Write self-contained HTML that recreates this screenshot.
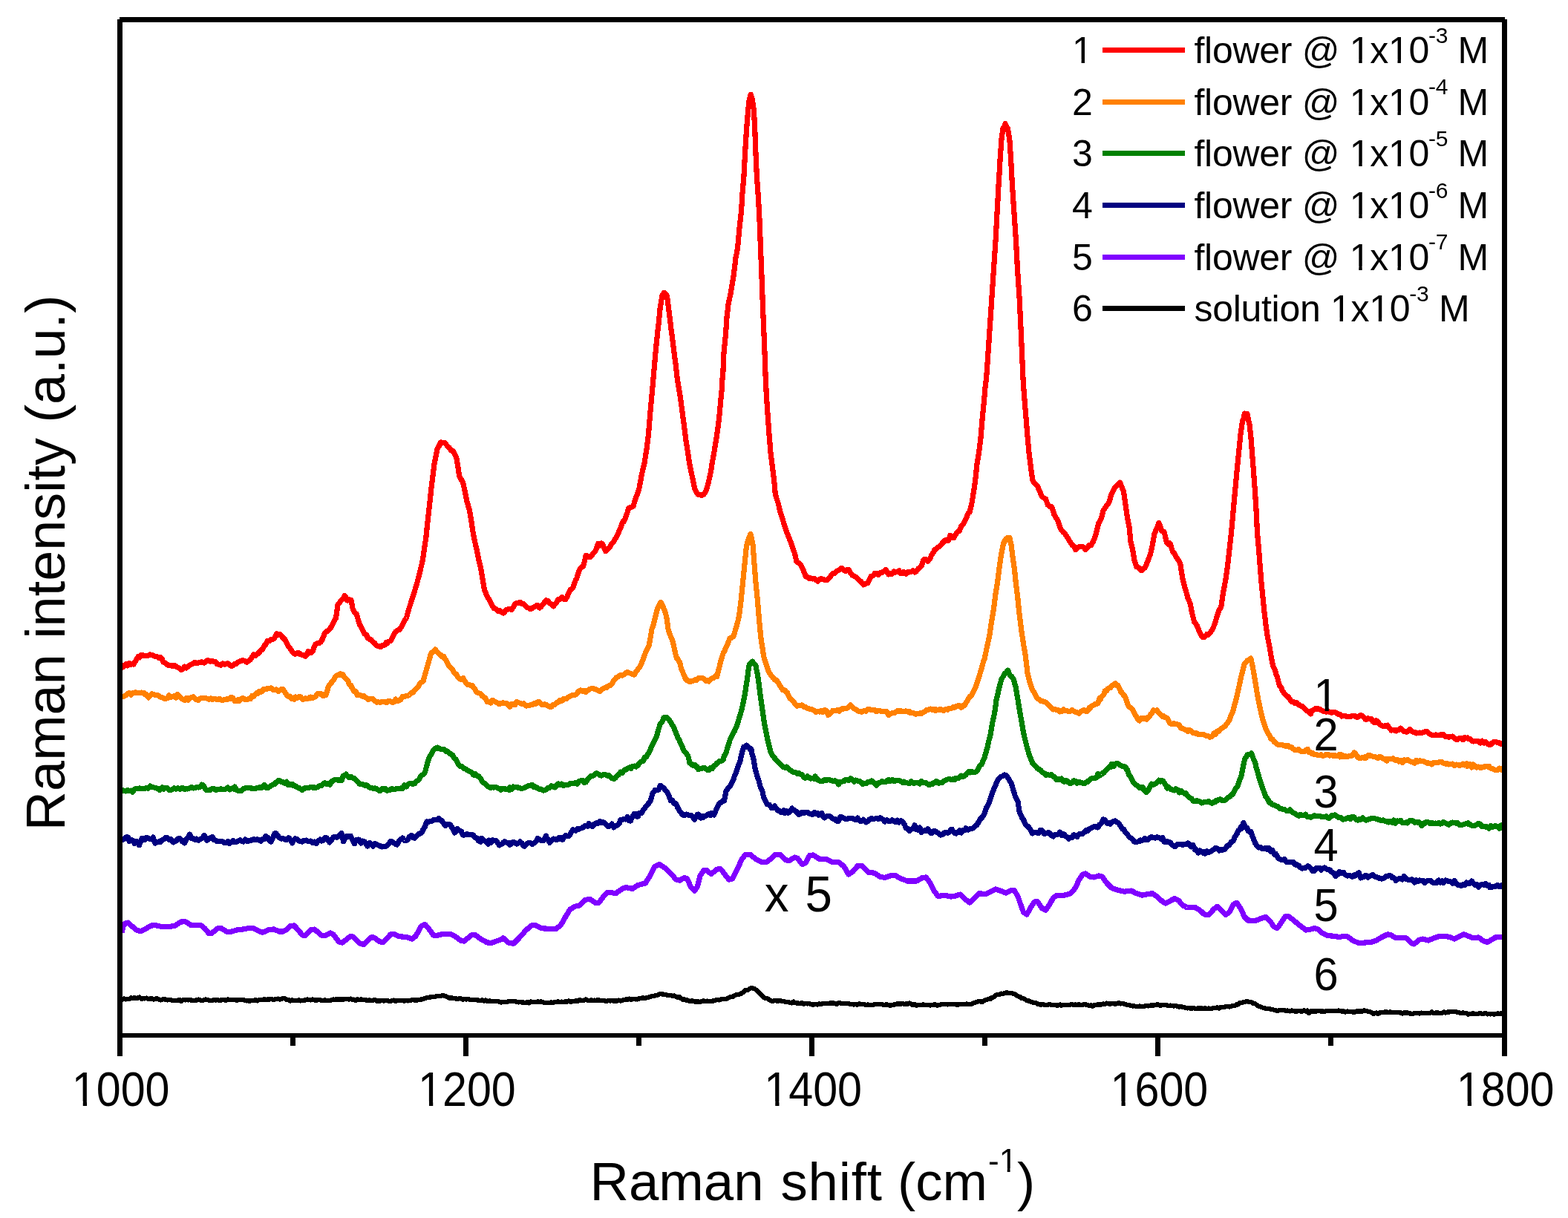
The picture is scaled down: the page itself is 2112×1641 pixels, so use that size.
<!DOCTYPE html>
<html lang="en"><head><meta charset="utf-8"><title>Raman spectra</title>
<style>html,body{margin:0;padding:0;background:#fff}body{width:2112px;height:1641px;overflow:hidden}svg{display:block}text{font-family:"Liberation Sans",sans-serif;fill:#000}</style></head><body>
<svg width="2112" height="1641" viewBox="0 0 2112 1641">
<defs><clipPath id="c0" clipPathUnits="userSpaceOnUse"><path clip-rule="evenodd" d="M-9000-9000H9000V9000H-9000ZM-68.51 -5.80H-55.25V2.00H-68.51ZM-49.58 -5.80H-36.83V2.00H-49.58Z"/></clipPath><clipPath id="c1" clipPathUnits="userSpaceOnUse"><path clip-rule="evenodd" d="M-9000-9000H9000V9000H-9000ZM-68.51 -5.80H-55.25V2.00H-68.51ZM-49.58 -5.80H-36.83V2.00H-49.58Z"/></clipPath><clipPath id="c2" clipPathUnits="userSpaceOnUse"><path clip-rule="evenodd" d="M-9000-9000H9000V9000H-9000ZM-68.51 -5.80H-55.25V2.00H-68.51ZM-49.58 -5.80H-36.83V2.00H-49.58Z"/></clipPath><clipPath id="c3" clipPathUnits="userSpaceOnUse"><path clip-rule="evenodd" d="M-9000-9000H9000V9000H-9000ZM-68.51 -5.80H-55.25V2.00H-68.51ZM-49.58 -5.80H-36.83V2.00H-49.58Z"/></clipPath><clipPath id="c4" clipPathUnits="userSpaceOnUse"><path clip-rule="evenodd" d="M-9000-9000H9000V9000H-9000ZM-68.51 -5.80H-55.25V2.00H-68.51ZM-49.58 -5.80H-36.83V2.00H-49.58Z"/></clipPath><clipPath id="c5" clipPathUnits="userSpaceOnUse"><path clip-rule="evenodd" d="M-9000-9000H9000V9000H-9000ZM1346.99 1574.21H1356.71V1580.50H1346.99ZM1360.59 1574.21H1369.96V1580.50H1360.59Z"/></clipPath><clipPath id="c7" clipPathUnits="userSpaceOnUse"><path clip-rule="evenodd" d="M-9000-9000H9000V9000H-9000ZM1445.81 80.46H1456.58V87.20H1445.81ZM1460.99 80.46H1471.37V87.20H1460.99Z"/></clipPath><clipPath id="c8" clipPathUnits="userSpaceOnUse"><path clip-rule="evenodd" d="M-9000-9000H9000V9000H-9000ZM1819.51 80.46H1830.28V87.20H1819.51ZM1834.69 80.46H1845.07V87.20H1834.69ZM1871.72 80.46H1882.48V87.20H1871.72ZM1886.90 80.46H1897.27V87.20H1886.90Z"/></clipPath><clipPath id="c10" clipPathUnits="userSpaceOnUse"><path clip-rule="evenodd" d="M-9000-9000H9000V9000H-9000ZM1819.51 150.07H1830.28V156.80H1819.51ZM1834.69 150.07H1845.07V156.80H1834.69ZM1871.72 150.07H1882.48V156.80H1871.72ZM1886.90 150.07H1897.27V156.80H1886.90Z"/></clipPath><clipPath id="c12" clipPathUnits="userSpaceOnUse"><path clip-rule="evenodd" d="M-9000-9000H9000V9000H-9000ZM1819.51 219.66H1830.28V226.40H1819.51ZM1834.69 219.66H1845.07V226.40H1834.69ZM1871.72 219.66H1882.48V226.40H1871.72ZM1886.90 219.66H1897.27V226.40H1886.90Z"/></clipPath><clipPath id="c14" clipPathUnits="userSpaceOnUse"><path clip-rule="evenodd" d="M-9000-9000H9000V9000H-9000ZM1819.51 289.26H1830.28V296.00H1819.51ZM1834.69 289.26H1845.07V296.00H1834.69ZM1871.72 289.26H1882.48V296.00H1871.72ZM1886.90 289.26H1897.27V296.00H1886.90Z"/></clipPath><clipPath id="c16" clipPathUnits="userSpaceOnUse"><path clip-rule="evenodd" d="M-9000-9000H9000V9000H-9000ZM1819.51 358.87H1830.28V365.60H1819.51ZM1834.69 358.87H1845.07V365.60H1834.69ZM1871.72 358.87H1882.48V365.60H1871.72ZM1886.90 358.87H1897.27V365.60H1886.90Z"/></clipPath><clipPath id="c18" clipPathUnits="userSpaceOnUse"><path clip-rule="evenodd" d="M-9000-9000H9000V9000H-9000ZM1793.83 428.47H1804.59V435.20H1793.83ZM1809.01 428.47H1819.38V435.20H1809.01ZM1846.04 428.47H1856.81V435.20H1846.04ZM1861.22 428.47H1871.60V435.20H1861.22Z"/></clipPath><clipPath id="c19" clipPathUnits="userSpaceOnUse"><path clip-rule="evenodd" d="M-9000-9000H9000V9000H-9000ZM2.80 -5.71H15.84V2.00H2.80ZM21.41 -5.71H33.96V2.00H21.41Z"/></clipPath></defs>
<rect x="0" y="0" width="2112" height="1641" fill="#fff"/>
<g id="curves" shape-rendering="crispEdges">
<polyline fill="none" stroke="#000000" stroke-width="6.3" stroke-linejoin="round" stroke-linecap="butt" points="164.8,1346.1 165.0,1346.4 167.1,1345.6 169.4,1346.5 171.7,1345.8 174.1,1345.9 176.4,1344.5 178.7,1344.8 180.0,1344.4 181.1,1344.4 183.4,1344.7 185.7,1344.5 188.1,1343.6 190.4,1345.7 192.7,1345.3 195.0,1345.4 197.4,1344.6 200.0,1345.8 202.0,1345.6 204.4,1345.2 206.7,1346.6 209.0,1345.8 211.4,1345.1 213.7,1346.2 216.0,1347.4 218.3,1347.1 220.0,1346.0 223.0,1346.6 225.3,1347.4 227.7,1346.9 230.0,1347.1 232.3,1348.2 234.7,1347.7 236.2,1348.2 239.3,1347.7 241.6,1346.8 244.0,1348.8 246.3,1347.4 248.6,1346.7 250.0,1347.4 251.0,1346.7 253.3,1347.4 255.6,1347.2 258.0,1347.6 260.3,1347.9 262.6,1347.7 264.9,1347.6 267.3,1346.6 270.0,1347.7 271.9,1348.3 274.3,1347.5 276.6,1346.5 278.9,1347.0 281.3,1347.6 283.6,1347.9 285.9,1348.0 288.2,1347.0 290.0,1347.5 292.9,1347.3 295.2,1347.9 297.6,1347.5 299.9,1347.1 302.2,1347.3 304.6,1347.6 306.9,1346.5 310.0,1346.9 311.5,1347.0 313.9,1347.1 316.2,1347.2 318.5,1347.6 320.9,1347.3 323.2,1347.3 325.0,1347.1 327.9,1347.2 330.2,1347.9 332.5,1348.4 334.8,1347.9 336.2,1349.0 337.2,1348.6 339.5,1347.9 341.8,1348.2 344.2,1347.1 346.5,1348.4 348.8,1347.3 350.0,1346.9 351.2,1346.7 353.5,1346.9 355.8,1346.1 358.1,1347.1 360.5,1346.5 362.8,1346.8 365.0,1345.7 367.5,1346.9 369.8,1346.5 372.1,1346.2 374.5,1345.6 376.8,1346.6 380.0,1345.6 381.4,1345.1 383.8,1345.5 386.1,1346.8 388.4,1346.8 390.8,1348.5 393.1,1347.5 395.4,1347.7 397.5,1347.9 400.1,1347.9 402.4,1347.3 404.7,1348.4 407.1,1347.8 409.4,1347.7 411.7,1347.4 414.1,1346.6 415.0,1347.0 416.4,1347.1 418.7,1347.4 421.1,1346.6 423.4,1346.8 425.7,1348.2 428.0,1346.9 430.4,1347.0 432.5,1347.8 435.0,1347.9 437.4,1347.5 439.7,1347.8 442.0,1347.8 444.4,1347.9 446.7,1347.3 449.0,1346.4 450.0,1346.8 451.3,1346.7 453.7,1346.4 456.0,1346.6 458.3,1346.4 460.7,1346.6 463.0,1346.4 465.3,1346.2 467.7,1346.2 470.0,1346.5 472.3,1345.6 474.6,1346.8 477.0,1346.6 479.3,1348.0 481.6,1346.2 484.0,1347.1 485.0,1347.0 486.3,1346.4 488.6,1347.0 491.0,1346.9 493.3,1347.5 495.6,1347.7 497.9,1347.5 500.0,1348.2 502.6,1347.8 504.9,1347.0 507.3,1348.5 509.6,1348.5 511.9,1348.5 514.3,1348.0 516.6,1348.4 518.9,1348.3 521.2,1348.0 523.6,1348.8 525.0,1348.9 525.9,1348.8 528.2,1348.1 530.6,1347.6 532.9,1348.8 535.0,1347.7 537.6,1348.2 539.9,1347.8 542.2,1348.3 544.5,1348.5 547.5,1348.2 549.2,1348.4 551.5,1348.1 553.9,1347.5 556.2,1347.2 558.5,1347.7 560.9,1347.5 563.2,1347.3 565.5,1347.0 567.8,1346.4 570.0,1346.3 572.5,1344.8 574.8,1344.2 577.5,1343.7 579.5,1343.6 581.8,1342.7 584.2,1343.3 586.5,1342.5 588.8,1342.2 590.0,1342.2 591.1,1342.2 593.5,1342.2 595.8,1341.0 598.8,1341.6 600.5,1342.0 602.8,1343.6 605.1,1344.5 607.5,1344.4 609.8,1344.7 612.1,1345.3 614.4,1345.4 616.8,1346.0 619.1,1345.1 621.4,1345.7 623.8,1346.8 625.0,1345.8 626.1,1345.8 628.4,1346.5 630.8,1346.1 633.1,1347.1 635.4,1346.8 637.7,1347.0 640.1,1346.9 642.4,1347.3 645.0,1347.8 647.1,1348.3 649.4,1347.4 651.7,1348.6 654.1,1347.4 656.4,1349.1 658.7,1348.5 661.0,1348.7 663.4,1348.9 665.0,1348.9 668.0,1349.3 670.4,1349.0 672.7,1349.6 675.0,1350.5 677.5,1350.2 678.0,1349.7 679.7,1349.7 682.0,1350.1 684.3,1349.4 686.7,1348.7 689.0,1348.9 691.3,1349.1 693.0,1348.8 696.0,1349.9 698.3,1350.4 700.7,1350.2 703.0,1350.5 705.3,1350.6 708.0,1351.4 710.0,1349.7 712.3,1351.4 714.6,1349.5 717.0,1350.3 719.3,1349.7 721.6,1349.8 723.0,1349.7 724.0,1349.4 726.3,1349.9 728.6,1349.3 730.9,1350.1 733.3,1350.8 735.6,1351.0 738.0,1350.7 740.3,1350.8 742.6,1350.3 744.9,1351.0 747.3,1350.2 749.6,1349.8 751.9,1349.4 753.0,1349.8 754.2,1349.8 756.6,1349.6 758.9,1349.8 761.2,1349.6 763.6,1349.7 765.9,1348.5 768.2,1349.7 770.6,1349.3 773.0,1349.1 775.2,1348.3 777.5,1349.3 779.9,1347.6 782.2,1347.6 784.5,1348.3 786.9,1347.6 789.2,1346.4 790.5,1347.2 791.5,1347.8 793.9,1348.1 796.2,1347.3 798.5,1347.8 800.8,1347.6 803.2,1348.3 805.5,1347.0 808.0,1347.9 810.2,1348.3 812.5,1348.3 814.8,1348.3 817.2,1349.1 819.5,1348.0 821.8,1348.5 824.1,1347.9 826.5,1348.8 828.0,1348.5 831.1,1348.6 833.5,1347.6 835.8,1348.5 838.1,1348.0 840.5,1347.0 843.0,1346.4 845.1,1346.7 847.4,1345.6 849.8,1347.1 852.1,1346.0 854.4,1346.1 856.8,1346.4 858.0,1346.3 859.1,1346.4 861.4,1344.9 863.8,1344.8 866.1,1344.1 868.4,1344.8 870.7,1344.4 873.0,1343.8 875.4,1343.1 877.7,1342.4 880.1,1341.8 883.0,1341.4 884.7,1341.0 887.1,1340.1 889.4,1339.0 890.5,1339.3 891.7,1339.5 894.0,1339.7 896.4,1339.7 898.7,1340.6 900.5,1340.9 903.4,1340.8 905.7,1341.7 908.0,1341.6 910.5,1342.5 912.7,1343.8 915.0,1343.2 918.0,1345.7 919.7,1346.7 922.0,1346.4 924.3,1347.5 926.7,1347.6 928.0,1348.3 929.0,1348.9 931.3,1348.4 933.7,1348.7 936.0,1349.7 938.0,1349.5 940.6,1349.3 943.0,1350.0 945.3,1349.2 947.6,1348.4 950.5,1349.0 952.3,1348.6 954.6,1348.8 957.0,1349.0 959.3,1349.2 961.6,1347.9 963.0,1348.0 963.9,1347.7 966.3,1346.8 968.6,1347.5 970.9,1346.4 973.3,1345.9 975.5,1346.2 977.9,1346.1 980.3,1344.7 982.6,1343.7 984.9,1342.9 988.0,1342.4 989.6,1341.3 991.9,1340.0 994.2,1340.1 996.6,1339.4 998.0,1338.9 1001.2,1336.8 1003.6,1334.4 1005.5,1334.2 1008.2,1333.3 1010.5,1331.5 1011.8,1331.2 1012.9,1331.3 1015.2,1331.8 1016.8,1332.5 1019.9,1334.9 1023.0,1337.8 1024.5,1339.2 1026.9,1341.9 1029.2,1344.1 1030.5,1344.8 1031.5,1344.9 1033.8,1345.4 1036.2,1347.1 1038.0,1348.2 1040.8,1348.8 1043.2,1348.2 1045.5,1348.4 1048.0,1348.7 1050.2,1348.0 1052.5,1348.7 1054.8,1349.1 1058.0,1349.8 1059.5,1350.3 1061.8,1349.8 1064.1,1351.1 1066.5,1351.4 1068.8,1349.4 1071.1,1351.2 1073.0,1351.4 1075.8,1351.6 1078.1,1351.9 1080.4,1351.1 1082.8,1352.7 1085.1,1351.8 1087.4,1352.4 1089.8,1352.0 1092.1,1353.0 1093.0,1353.1 1094.4,1353.7 1096.8,1353.3 1099.1,1352.8 1101.4,1353.5 1103.7,1352.4 1106.1,1352.9 1108.4,1352.2 1110.7,1352.1 1113.0,1352.3 1115.4,1352.2 1117.7,1351.6 1120.1,1351.6 1122.4,1351.3 1124.7,1352.0 1127.0,1353.0 1129.4,1351.3 1131.7,1351.4 1134.0,1352.1 1135.5,1351.7 1138.7,1352.2 1141.0,1352.1 1143.4,1352.1 1145.5,1353.2 1148.0,1353.3 1150.3,1353.4 1152.7,1353.0 1155.0,1353.7 1157.3,1352.5 1159.7,1352.8 1162.0,1352.8 1164.3,1352.9 1165.5,1353.6 1166.7,1354.3 1169.0,1353.6 1171.3,1354.2 1173.6,1354.0 1176.0,1353.8 1178.3,1353.0 1180.6,1353.0 1183.0,1353.1 1185.3,1353.1 1188.0,1353.2 1190.0,1354.0 1192.3,1353.6 1194.6,1353.2 1196.9,1354.2 1199.2,1354.8 1201.6,1353.9 1203.9,1353.8 1206.0,1352.7 1208.6,1352.6 1210.9,1352.6 1213.3,1352.6 1215.6,1352.0 1217.9,1353.1 1221.0,1352.1 1222.6,1352.7 1224.9,1351.6 1227.2,1352.7 1229.6,1354.1 1231.9,1353.2 1234.2,1354.7 1236.0,1353.8 1238.9,1354.3 1241.2,1354.1 1243.5,1353.3 1245.9,1354.0 1248.2,1354.2 1250.5,1354.0 1252.9,1354.6 1256.0,1353.9 1257.5,1353.5 1259.9,1353.5 1262.2,1354.8 1264.5,1353.9 1266.8,1353.8 1269.2,1352.7 1271.0,1353.1 1273.8,1353.0 1276.2,1353.4 1278.5,1353.1 1280.8,1353.0 1283.2,1352.7 1285.5,1353.0 1288.5,1353.5 1290.1,1353.7 1292.5,1352.9 1294.8,1353.3 1297.1,1352.8 1299.5,1353.3 1301.8,1352.4 1304.1,1353.1 1306.0,1353.3 1308.8,1352.7 1311.1,1351.5 1313.4,1350.7 1316.0,1349.7 1318.1,1349.0 1320.4,1349.2 1322.8,1350.0 1325.1,1348.2 1326.0,1348.4 1327.4,1347.0 1329.8,1346.7 1332.1,1345.6 1334.4,1345.6 1336.0,1344.1 1339.1,1343.0 1341.4,1340.9 1343.5,1339.8 1346.1,1340.1 1348.4,1338.6 1350.7,1339.2 1353.1,1338.0 1356.0,1337.1 1357.7,1337.7 1360.0,1337.8 1362.4,1337.7 1364.7,1339.0 1366.0,1338.7 1367.0,1339.3 1369.4,1341.0 1371.7,1342.6 1374.0,1343.2 1376.0,1344.8 1378.7,1345.2 1381.0,1346.7 1383.3,1348.1 1386.0,1348.6 1388.0,1349.3 1390.3,1350.4 1392.7,1350.9 1395.0,1351.1 1397.3,1352.0 1398.5,1353.1 1399.7,1353.3 1402.0,1353.6 1404.3,1353.2 1406.6,1353.7 1409.0,1354.2 1411.3,1353.7 1413.6,1353.0 1416.0,1354.0 1418.3,1353.9 1420.6,1353.7 1423.0,1354.5 1425.3,1354.5 1427.6,1353.5 1429.9,1354.8 1431.0,1354.0 1432.3,1353.9 1434.6,1354.0 1436.9,1353.8 1439.3,1354.0 1441.6,1353.5 1443.9,1352.9 1446.3,1354.2 1448.6,1353.4 1451.0,1353.8 1453.2,1353.3 1455.6,1353.8 1457.9,1353.9 1460.2,1353.2 1462.6,1353.5 1464.9,1353.9 1467.2,1354.8 1468.5,1354.9 1469.6,1354.4 1471.9,1355.8 1474.2,1353.9 1476.5,1353.7 1478.9,1353.4 1481.0,1353.5 1483.5,1353.4 1485.9,1352.5 1488.2,1352.9 1490.5,1351.5 1493.5,1352.3 1495.2,1352.7 1497.5,1352.0 1499.8,1352.3 1502.2,1352.8 1504.5,1352.2 1506.8,1351.1 1509.2,1352.4 1511.5,1351.9 1513.5,1352.3 1516.2,1353.1 1518.5,1353.9 1520.8,1354.1 1523.1,1354.8 1526.0,1355.5 1527.8,1355.3 1530.1,1356.0 1532.5,1355.9 1534.8,1355.5 1537.1,1356.1 1539.5,1356.1 1541.0,1355.9 1544.1,1355.0 1546.4,1355.4 1548.8,1354.7 1551.1,1354.4 1553.4,1354.8 1556.0,1353.9 1558.1,1353.5 1560.4,1353.5 1562.8,1355.1 1565.1,1353.8 1567.4,1353.9 1569.7,1354.1 1571.0,1354.1 1572.1,1354.5 1574.4,1355.2 1576.7,1354.6 1579.1,1355.3 1581.4,1355.5 1583.7,1355.1 1586.1,1355.9 1588.5,1356.8 1590.7,1356.1 1593.0,1357.2 1595.4,1357.2 1597.7,1358.0 1600.0,1358.4 1602.4,1357.8 1604.7,1359.3 1606.0,1358.3 1607.0,1357.9 1609.4,1358.6 1611.7,1359.2 1614.0,1358.3 1616.3,1358.6 1618.7,1358.4 1621.0,1359.3 1623.3,1358.0 1626.0,1359.2 1628.0,1358.5 1630.3,1359.1 1632.7,1358.6 1635.0,1357.7 1637.3,1358.2 1639.6,1357.4 1642.0,1358.5 1644.3,1356.7 1646.0,1357.2 1649.0,1356.8 1651.3,1355.9 1653.6,1355.7 1656.0,1356.4 1658.3,1355.6 1660.6,1355.2 1663.5,1354.9 1665.3,1353.3 1667.6,1353.5 1669.9,1351.3 1671.0,1351.0 1672.3,1350.9 1674.6,1350.4 1676.9,1349.8 1678.5,1349.2 1681.6,1349.6 1683.9,1349.8 1686.0,1350.5 1688.6,1352.3 1690.9,1352.4 1693.5,1354.8 1695.6,1356.0 1697.9,1356.5 1700.2,1357.4 1702.6,1358.3 1703.5,1358.4 1704.9,1358.9 1707.2,1359.0 1709.5,1358.7 1711.9,1359.7 1714.2,1360.0 1716.5,1360.9 1718.5,1361.3 1721.2,1361.9 1723.5,1360.7 1725.9,1360.8 1728.2,1360.8 1730.5,1361.3 1732.8,1361.8 1734.0,1361.4 1735.2,1361.8 1737.5,1362.4 1739.8,1361.5 1742.2,1361.8 1744.5,1362.6 1746.8,1362.5 1749.2,1361.8 1751.5,1362.5 1753.8,1362.7 1756.1,1361.3 1759.0,1362.5 1760.8,1361.4 1763.1,1364.9 1765.5,1362.3 1767.8,1362.6 1770.1,1362.3 1772.5,1362.7 1774.8,1361.9 1777.1,1361.7 1779.4,1362.6 1781.8,1362.6 1784.1,1362.7 1786.4,1362.3 1788.8,1362.0 1791.5,1361.9 1793.4,1362.2 1795.8,1362.1 1798.1,1362.2 1800.4,1362.2 1802.7,1361.5 1805.1,1361.8 1807.4,1362.8 1809.7,1362.3 1812.1,1363.5 1814.4,1362.6 1816.7,1362.7 1819.0,1363.0 1821.4,1363.1 1823.7,1364.0 1826.0,1362.7 1828.4,1362.4 1830.7,1362.5 1833.0,1362.4 1835.4,1362.5 1837.7,1361.4 1840.0,1362.0 1841.5,1362.3 1844.7,1363.2 1847.0,1363.8 1849.3,1365.5 1851.5,1365.5 1854.0,1364.6 1856.3,1366.2 1858.7,1364.1 1861.0,1363.9 1863.3,1364.0 1865.7,1363.4 1868.0,1363.6 1870.3,1363.9 1871.5,1363.6 1872.6,1363.3 1875.0,1363.9 1877.3,1364.1 1879.6,1363.9 1882.0,1364.3 1884.3,1364.1 1886.6,1364.5 1889.0,1365.6 1891.3,1364.3 1893.6,1364.6 1895.9,1364.5 1899.0,1365.4 1900.6,1365.7 1902.9,1366.2 1905.3,1364.7 1907.6,1365.1 1909.9,1365.1 1912.3,1365.6 1914.6,1364.6 1916.9,1364.8 1919.2,1364.9 1921.6,1364.8 1923.9,1364.8 1926.2,1365.2 1928.6,1363.4 1930.9,1365.2 1934.0,1364.6 1935.6,1364.5 1937.9,1364.7 1940.2,1364.8 1942.5,1364.6 1944.9,1363.5 1947.2,1364.6 1949.5,1363.5 1951.9,1363.5 1954.2,1362.9 1956.5,1363.3 1959.0,1363.3 1961.2,1363.2 1963.5,1364.3 1965.8,1364.3 1968.2,1365.2 1970.5,1364.4 1972.8,1364.9 1975.2,1365.1 1977.5,1366.7 1979.0,1365.7 1982.2,1365.7 1984.5,1365.2 1986.8,1366.0 1989.1,1365.9 1991.5,1365.8 1993.8,1365.1 1996.1,1365.7 1998.5,1365.9 2000.8,1364.8 2003.1,1366.4 2005.5,1366.0 2007.8,1366.4 2010.1,1366.0 2012.4,1366.5 2014.8,1366.2 2017.1,1365.5 2019.4,1365.7 2021.8,1365.4 2023.2,1366.0 2023.5,1365.6"/>
<polyline fill="none" stroke="#8000ff" stroke-width="7.2" stroke-linejoin="round" stroke-linecap="butt" points="164.8,1257.0 165.0,1250.0 167.1,1246.5 168.8,1243.8 172.5,1243.0 174.1,1244.4 176.4,1246.6 178.8,1248.8 181.1,1250.6 183.4,1252.5 185.0,1253.8 188.1,1254.2 190.0,1254.5 192.7,1253.1 195.0,1251.9 196.2,1251.2 197.4,1250.6 199.7,1249.3 202.0,1248.0 203.8,1247.0 206.7,1246.9 209.0,1246.8 210.0,1246.8 211.4,1247.1 213.7,1247.6 216.0,1248.1 218.8,1248.8 220.7,1248.8 223.0,1248.8 225.0,1248.8 227.7,1248.4 230.0,1248.1 232.3,1247.8 235.0,1247.5 237.0,1246.3 239.3,1244.8 241.6,1243.3 243.8,1242.0 246.3,1241.9 248.6,1241.8 250.0,1241.8 251.0,1242.4 253.3,1243.9 255.6,1245.5 257.5,1246.8 260.3,1246.8 262.6,1246.8 263.8,1246.8 264.9,1246.7 267.3,1246.5 270.0,1246.2 271.9,1247.8 274.3,1249.7 276.2,1251.2 278.9,1254.6 281.2,1257.5 283.6,1257.5 285.0,1257.5 285.9,1256.8 288.2,1254.9 290.6,1253.0 293.8,1250.5 295.2,1250.5 297.5,1250.5 299.9,1251.9 302.2,1253.3 305.0,1255.0 306.9,1255.3 310.0,1255.8 311.5,1255.3 313.9,1254.5 316.2,1253.8 318.8,1253.0 320.9,1252.8 323.2,1252.5 325.5,1252.2 327.5,1252.0 330.2,1251.5 332.5,1251.0 335.0,1250.5 337.2,1250.5 339.5,1250.5 341.2,1250.5 344.2,1252.0 346.5,1253.2 348.8,1254.4 350.0,1255.0 351.2,1255.4 353.8,1256.2 355.8,1255.4 358.1,1254.4 360.5,1253.4 362.5,1252.5 365.1,1252.3 367.5,1252.1 368.8,1252.0 369.8,1252.4 372.1,1253.3 374.5,1254.3 376.2,1255.0 379.1,1255.0 381.2,1255.0 383.8,1253.7 386.2,1252.5 388.4,1250.3 391.2,1247.5 393.1,1247.3 396.2,1247.0 397.8,1248.7 400.1,1251.2 401.2,1252.5 402.4,1253.9 404.7,1256.7 407.5,1260.0 409.4,1260.3 411.2,1260.5 414.1,1257.5 416.4,1255.0 418.8,1252.5 421.1,1252.3 423.8,1252.0 425.7,1253.8 428.0,1255.9 430.4,1258.1 432.5,1260.0 435.0,1260.4 437.5,1260.8 439.7,1259.7 442.0,1258.5 445.0,1257.0 446.7,1257.8 448.8,1258.8 451.3,1262.2 453.7,1265.3 456.2,1268.8 458.3,1269.3 461.2,1270.0 463.0,1268.6 465.3,1266.7 467.7,1264.9 470.0,1263.0 471.2,1262.0 472.3,1261.9 475.0,1261.8 477.0,1263.6 479.3,1265.8 481.6,1268.0 484.0,1270.3 485.0,1271.2 486.3,1271.6 488.6,1272.2 490.0,1272.5 491.0,1271.6 493.3,1269.4 495.6,1267.2 497.9,1265.0 500.0,1263.0 502.6,1263.0 503.8,1263.0 504.9,1263.9 507.3,1265.7 509.6,1267.5 511.2,1268.8 514.3,1269.2 516.2,1269.5 518.9,1266.6 521.2,1264.1 523.6,1261.6 526.2,1258.8 528.2,1258.5 530.0,1258.2 532.9,1259.6 535.2,1260.7 537.5,1261.8 539.9,1261.9 542.2,1262.1 544.5,1262.3 547.5,1262.5 549.2,1263.1 551.5,1263.8 553.9,1264.6 555.0,1265.0 556.2,1264.1 558.5,1262.4 560.0,1261.2 563.2,1255.4 565.5,1251.1 567.5,1247.5 570.2,1246.4 572.5,1245.5 574.8,1248.2 577.5,1251.2 579.5,1254.0 581.8,1257.3 583.8,1260.0 586.5,1260.4 587.5,1260.5 588.8,1260.2 591.1,1259.7 593.5,1259.1 595.0,1258.8 598.1,1258.8 600.5,1258.8 602.8,1258.8 605.1,1258.8 607.5,1258.8 609.8,1259.9 612.5,1261.2 614.4,1262.6 616.8,1264.3 619.1,1266.0 621.2,1267.5 623.8,1267.8 625.0,1268.0 626.1,1267.1 628.4,1265.3 630.8,1263.4 633.1,1261.5 635.0,1260.0 637.7,1259.7 640.0,1259.5 642.4,1261.3 644.7,1263.0 647.5,1265.0 649.4,1266.1 651.7,1267.4 654.1,1268.7 656.2,1270.0 658.7,1270.1 661.0,1270.2 662.5,1270.2 665.7,1269.1 668.0,1268.2 670.0,1267.5 672.7,1266.6 675.0,1265.8 677.5,1265.0 678.0,1263.8 679.7,1265.3 682.0,1267.4 684.3,1269.5 685.5,1270.5 686.7,1270.6 689.0,1270.9 691.8,1271.2 693.7,1269.3 696.0,1267.0 698.3,1264.7 699.2,1263.8 700.7,1262.1 703.0,1259.5 705.3,1256.8 708.0,1253.8 710.0,1252.0 712.3,1249.9 715.5,1247.0 717.0,1246.8 719.3,1246.4 720.5,1246.2 721.6,1246.8 724.0,1248.0 726.3,1249.2 729.2,1250.8 730.9,1250.8 733.3,1251.0 735.6,1251.1 738.0,1251.2 740.3,1251.2 742.6,1251.2 744.9,1251.2 747.3,1251.2 749.2,1251.2 751.9,1249.1 754.2,1247.3 755.5,1246.2 756.6,1244.3 758.9,1240.1 761.8,1235.0 763.6,1232.1 765.9,1228.4 768.0,1225.0 770.6,1223.5 772.9,1222.1 774.2,1221.2 775.2,1221.1 777.5,1220.6 780.5,1220.0 782.2,1218.3 784.5,1216.0 786.9,1213.6 788.0,1212.5 789.2,1212.3 791.5,1211.8 794.2,1211.2 796.2,1212.5 798.5,1214.1 800.8,1215.6 801.8,1216.2 803.2,1216.2 805.5,1216.2 806.8,1216.2 807.8,1214.7 810.2,1211.5 813.0,1207.5 814.8,1205.7 818.0,1202.5 819.5,1202.5 821.8,1202.5 823.0,1202.5 824.1,1202.7 826.5,1203.2 829.2,1203.8 831.1,1202.4 833.5,1200.7 835.8,1199.1 838.0,1197.5 840.5,1196.5 843.0,1195.5 845.1,1196.0 847.4,1196.5 849.8,1197.0 851.8,1197.5 854.4,1195.7 856.8,1194.2 859.2,1192.5 861.4,1192.0 863.8,1191.4 866.1,1190.8 869.2,1190.0 870.7,1187.6 873.1,1183.9 875.5,1180.0 877.7,1175.5 880.1,1170.9 881.8,1167.5 884.7,1166.1 887.1,1165.0 888.0,1164.5 889.4,1165.4 891.7,1166.8 894.0,1168.3 896.8,1170.0 898.7,1172.0 901.0,1174.3 904.2,1177.5 905.7,1179.2 908.0,1182.0 910.5,1185.0 912.7,1185.5 915.5,1186.2 917.3,1185.1 919.7,1183.7 921.8,1182.5 924.3,1183.4 925.5,1183.8 926.7,1186.4 929.0,1191.6 930.5,1195.0 933.7,1198.2 935.5,1200.0 938.3,1196.3 939.2,1195.0 940.6,1189.4 943.0,1180.0 945.3,1176.5 948.0,1172.5 950.0,1172.5 951.8,1172.5 954.6,1174.8 957.0,1176.7 958.0,1177.5 959.3,1176.4 961.6,1174.5 963.9,1172.5 965.5,1171.2 968.6,1170.8 970.5,1170.5 973.3,1174.1 975.6,1177.2 976.8,1178.8 977.9,1180.2 980.3,1183.1 981.8,1185.0 984.9,1184.2 986.8,1183.8 989.6,1178.1 991.9,1173.4 993.0,1171.2 994.2,1168.5 996.6,1163.4 999.2,1157.5 1001.2,1155.0 1004.2,1151.2 1005.9,1151.2 1008.2,1151.2 1010.5,1151.2 1012.9,1153.2 1015.2,1155.2 1018.0,1157.5 1019.9,1158.4 1022.2,1159.6 1024.5,1160.8 1025.5,1161.2 1026.9,1161.2 1029.2,1161.2 1031.5,1161.2 1033.0,1161.2 1036.2,1158.7 1039.2,1156.2 1040.8,1154.7 1043.2,1152.3 1044.2,1151.2 1045.5,1151.2 1047.8,1151.2 1050.5,1151.2 1052.5,1153.2 1054.8,1155.6 1058.0,1158.8 1059.5,1159.0 1061.8,1159.3 1063.0,1159.5 1064.1,1158.8 1066.5,1157.4 1068.8,1156.0 1070.5,1155.0 1074.2,1156.2 1075.8,1158.3 1078.1,1161.3 1080.5,1164.5 1082.8,1163.6 1085.5,1162.5 1087.4,1158.6 1090.5,1152.5 1092.1,1152.3 1094.4,1152.1 1095.5,1152.0 1096.8,1152.8 1099.1,1154.4 1101.4,1155.9 1103.0,1157.0 1106.1,1157.2 1108.4,1157.3 1110.7,1157.4 1113.0,1157.5 1115.4,1158.7 1117.7,1159.9 1120.5,1161.2 1122.4,1161.4 1124.7,1161.6 1127.0,1161.7 1129.4,1161.9 1130.5,1162.0 1131.7,1163.1 1134.0,1165.1 1136.8,1167.5 1138.7,1170.8 1141.0,1174.7 1143.0,1178.0 1145.7,1176.2 1148.0,1174.6 1149.2,1173.8 1150.3,1172.4 1152.7,1169.6 1155.5,1166.2 1157.3,1166.2 1160.5,1166.2 1162.0,1167.7 1164.3,1170.1 1166.7,1172.4 1169.2,1175.0 1171.3,1175.3 1173.6,1175.6 1176.0,1176.0 1178.0,1176.2 1180.6,1178.0 1183.0,1179.6 1185.5,1181.2 1187.6,1181.7 1190.0,1182.1 1191.8,1182.5 1194.6,1181.5 1196.9,1180.8 1199.2,1180.0 1201.6,1179.8 1203.9,1179.7 1206.0,1179.5 1208.6,1181.0 1210.9,1182.3 1213.5,1183.8 1215.6,1184.5 1217.9,1185.4 1220.2,1186.3 1222.2,1187.0 1224.9,1187.0 1227.2,1187.0 1229.6,1187.0 1231.9,1187.0 1234.8,1187.0 1236.6,1185.9 1238.9,1184.5 1241.2,1183.1 1242.2,1182.5 1243.5,1182.4 1245.9,1182.1 1247.2,1182.0 1248.2,1183.3 1250.5,1186.4 1252.2,1188.8 1255.2,1194.6 1257.2,1198.8 1259.9,1202.4 1262.2,1205.7 1263.5,1207.5 1264.5,1207.4 1266.8,1207.0 1269.2,1206.7 1272.2,1206.2 1273.8,1206.6 1276.2,1207.0 1278.5,1207.5 1281.0,1208.0 1283.2,1207.7 1285.5,1207.3 1287.2,1207.0 1290.1,1206.1 1292.5,1205.3 1293.5,1205.0 1294.8,1206.3 1297.1,1208.6 1299.8,1211.2 1301.8,1212.9 1304.1,1214.7 1306.0,1216.2 1308.8,1213.5 1311.1,1211.1 1312.2,1210.0 1313.4,1208.8 1315.8,1206.5 1318.5,1203.8 1320.4,1203.9 1322.8,1204.1 1325.1,1204.2 1327.4,1204.4 1328.5,1204.5 1329.8,1203.8 1332.1,1202.6 1334.8,1201.2 1336.7,1200.2 1339.1,1199.0 1341.0,1198.0 1343.7,1198.9 1346.1,1199.6 1347.2,1200.0 1348.4,1200.5 1350.7,1201.4 1353.1,1202.3 1354.8,1203.0 1357.7,1201.6 1360.0,1200.5 1361.0,1200.0 1362.4,1199.9 1364.7,1199.6 1366.0,1199.5 1367.0,1201.1 1369.4,1204.9 1371.0,1207.5 1374.8,1218.8 1376.4,1223.0 1378.5,1228.8 1381.0,1230.6 1383.0,1232.0 1385.7,1227.4 1388.5,1222.5 1390.3,1219.8 1393.5,1215.0 1395.0,1214.8 1397.2,1214.5 1399.7,1218.1 1402.0,1221.5 1403.5,1223.8 1406.6,1225.3 1408.5,1226.2 1411.3,1222.0 1413.5,1218.8 1416.0,1214.4 1418.5,1210.0 1420.6,1208.4 1423.5,1206.2 1425.3,1206.2 1427.6,1206.2 1429.9,1206.2 1432.3,1206.2 1433.5,1206.2 1434.6,1205.9 1436.9,1205.3 1439.3,1204.6 1442.2,1203.8 1443.9,1201.7 1446.3,1198.9 1448.5,1196.2 1450.9,1190.8 1453.5,1185.0 1455.6,1182.1 1458.5,1178.0 1460.2,1177.5 1462.2,1177.0 1464.9,1178.8 1467.2,1180.4 1468.5,1181.2 1469.6,1181.4 1471.9,1181.8 1473.5,1182.0 1476.5,1181.0 1479.8,1180.0 1481.2,1180.4 1483.5,1180.9 1484.8,1181.2 1485.9,1182.8 1488.2,1186.1 1491.0,1190.0 1492.9,1191.9 1495.2,1194.2 1497.2,1196.2 1499.8,1197.2 1502.2,1198.1 1504.5,1198.9 1506.0,1199.5 1509.2,1200.1 1511.5,1200.6 1513.8,1201.1 1514.8,1201.2 1516.2,1201.0 1518.5,1200.7 1520.8,1200.4 1523.5,1200.0 1525.5,1201.0 1527.8,1202.2 1531.0,1203.8 1532.5,1204.2 1534.8,1205.0 1537.1,1205.8 1538.5,1206.2 1539.5,1206.0 1541.8,1205.5 1544.1,1204.9 1546.0,1204.5 1548.8,1204.2 1551.1,1203.9 1552.2,1203.8 1553.4,1204.6 1555.8,1206.1 1558.5,1208.0 1560.4,1209.8 1562.8,1211.9 1564.8,1213.8 1567.4,1215.5 1569.8,1217.0 1572.1,1215.8 1574.4,1214.6 1576.0,1213.8 1579.1,1212.2 1582.2,1210.5 1583.7,1211.2 1586.1,1212.4 1587.2,1213.0 1588.4,1214.3 1590.7,1216.9 1593.5,1220.0 1595.4,1220.9 1598.5,1222.5 1600.0,1222.5 1602.4,1222.5 1604.7,1222.5 1607.0,1222.5 1609.8,1222.5 1611.7,1223.7 1614.0,1225.1 1616.0,1226.2 1618.7,1228.7 1621.0,1230.9 1622.2,1232.0 1623.3,1232.1 1625.7,1232.3 1628.5,1232.5 1630.3,1230.3 1632.7,1227.5 1634.8,1225.0 1637.3,1223.1 1639.8,1221.2 1642.0,1223.5 1644.8,1226.2 1646.6,1228.1 1649.0,1230.5 1651.0,1232.5 1653.6,1230.5 1656.0,1228.8 1658.3,1224.2 1661.0,1218.8 1662.9,1217.8 1666.0,1216.2 1667.6,1218.7 1669.9,1222.1 1671.0,1223.8 1672.3,1226.6 1674.6,1231.8 1676.0,1235.0 1676.9,1235.9 1679.3,1238.3 1681.0,1240.0 1683.9,1240.1 1686.2,1240.3 1688.6,1240.4 1691.0,1240.5 1693.2,1239.6 1695.6,1238.7 1698.5,1237.5 1700.2,1236.9 1702.6,1236.2 1704.8,1235.5 1707.2,1237.8 1709.5,1239.9 1711.0,1241.2 1714.2,1246.1 1716.0,1248.8 1718.9,1249.9 1720.5,1250.5 1723.5,1246.1 1726.0,1242.5 1728.2,1239.2 1731.0,1235.0 1732.8,1234.7 1734.0,1234.5 1735.2,1234.7 1736.5,1235.0 1737.5,1235.8 1739.8,1237.8 1742.2,1239.7 1744.0,1241.2 1746.8,1243.6 1749.2,1245.5 1751.5,1247.5 1753.8,1249.2 1756.1,1250.9 1759.0,1253.0 1760.8,1252.8 1764.0,1252.5 1765.5,1252.0 1767.8,1251.3 1770.2,1250.5 1772.5,1251.2 1775.2,1252.0 1777.1,1253.6 1779.4,1255.7 1781.5,1257.5 1784.1,1258.7 1786.4,1259.9 1787.8,1260.5 1788.8,1260.6 1791.1,1260.8 1793.4,1261.0 1796.5,1261.2 1798.1,1261.5 1800.4,1261.9 1802.7,1262.3 1804.0,1262.5 1805.1,1262.3 1807.4,1261.8 1810.2,1261.2 1812.1,1261.5 1815.2,1262.0 1816.7,1263.1 1819.1,1264.8 1821.4,1266.5 1822.8,1267.5 1823.7,1267.9 1826.0,1268.8 1828.4,1269.7 1830.2,1270.5 1833.0,1270.3 1835.4,1270.2 1837.7,1270.1 1839.0,1270.0 1840.0,1269.9 1842.4,1269.8 1844.7,1269.6 1846.5,1269.5 1849.3,1268.6 1851.7,1267.8 1854.0,1267.0 1856.3,1265.6 1858.7,1264.2 1861.5,1262.5 1863.3,1261.6 1865.7,1260.4 1868.0,1259.3 1869.0,1258.8 1870.3,1259.1 1872.6,1259.7 1874.0,1260.0 1875.0,1260.6 1877.3,1262.0 1880.2,1263.8 1882.0,1263.8 1884.3,1263.8 1886.6,1263.8 1887.8,1263.8 1889.0,1263.8 1891.3,1263.8 1894.0,1263.8 1895.9,1265.7 1898.3,1268.0 1900.2,1270.0 1902.9,1271.3 1904.5,1272.0 1907.6,1269.5 1909.9,1267.5 1911.5,1266.2 1914.6,1265.5 1916.5,1265.0 1919.2,1265.7 1921.6,1266.4 1924.0,1267.0 1926.2,1266.0 1928.6,1265.0 1931.5,1263.8 1933.2,1263.2 1935.6,1262.4 1937.9,1261.6 1939.0,1261.2 1940.2,1261.2 1942.5,1261.2 1944.9,1261.2 1946.5,1261.2 1949.5,1261.9 1952.8,1262.5 1954.2,1263.1 1956.5,1264.0 1959.0,1265.0 1961.2,1264.0 1963.5,1262.8 1965.2,1262.0 1968.2,1260.5 1970.5,1259.3 1971.5,1258.8 1972.8,1259.3 1975.2,1260.2 1977.8,1261.2 1979.8,1262.1 1982.2,1263.0 1984.0,1263.8 1986.8,1263.5 1989.1,1263.2 1991.5,1263.0 1993.8,1264.7 1996.1,1266.3 1997.8,1267.5 2000.8,1268.7 2002.8,1269.5 2005.5,1268.1 2007.8,1266.9 2009.0,1266.2 2010.1,1265.5 2012.4,1264.0 2014.0,1263.0 2017.1,1262.8 2019.4,1262.7 2021.8,1262.6 2023.2,1262.5 2023.5,1262.5"/>
<polyline fill="none" stroke="#000080" stroke-width="7.2" stroke-linejoin="round" stroke-linecap="butt" points="164.8,1130.2 165.0,1131.4 167.1,1130.8 169.4,1128.0 172.5,1128.1 174.1,1133.3 176.4,1131.7 177.5,1131.8 178.7,1132.0 181.1,1136.6 183.4,1133.8 185.0,1133.9 187.5,1138.8 191.2,1129.3 192.7,1129.8 195.0,1131.6 197.4,1128.3 200.0,1129.7 202.0,1130.7 204.4,1130.7 206.2,1128.1 208.8,1136.1 211.4,1134.4 213.7,1134.0 216.2,1134.4 218.3,1131.7 220.7,1130.7 223.0,1128.3 225.0,1128.6 227.7,1131.5 230.0,1130.6 232.3,1133.6 233.8,1134.8 234.7,1133.1 237.0,1133.1 240.0,1129.8 241.6,1129.3 244.0,1131.5 245.0,1133.4 246.3,1132.9 248.6,1135.8 250.0,1132.2 251.0,1131.2 253.3,1127.9 254.5,1126.2 255.6,1124.1 258.0,1129.8 260.0,1129.4 262.6,1131.5 264.9,1130.1 267.3,1132.3 268.8,1130.9 271.9,1129.7 275.0,1125.5 276.6,1128.2 278.8,1132.3 281.3,1130.1 283.8,1128.9 285.9,1127.4 288.2,1131.6 290.0,1132.1 292.9,1133.8 295.2,1133.1 297.6,1133.5 300.0,1133.8 302.2,1135.5 304.6,1135.4 306.9,1133.8 308.8,1136.6 311.5,1134.6 313.8,1132.6 316.2,1134.4 318.5,1134.2 320.9,1133.2 323.2,1131.8 325.0,1133.0 327.9,1134.0 330.2,1131.1 332.5,1133.2 335.0,1133.2 337.2,1132.1 339.5,1131.9 341.8,1130.4 345.0,1131.9 346.5,1130.9 348.8,1131.4 351.2,1133.2 353.8,1130.7 355.8,1130.5 358.0,1126.3 360.5,1128.4 362.8,1132.3 363.8,1133.4 365.1,1134.0 367.5,1129.3 370.0,1122.9 372.1,1123.0 375.0,1127.2 376.8,1129.1 379.1,1130.0 381.4,1129.6 383.8,1131.1 386.1,1131.4 388.8,1128.7 390.8,1131.0 393.8,1135.8 395.4,1132.6 397.5,1129.7 400.1,1130.5 402.4,1132.7 405.0,1133.6 407.1,1134.1 409.4,1132.5 412.5,1132.0 414.1,1133.2 416.4,1133.6 418.7,1133.0 421.2,1135.8 423.4,1134.1 426.2,1136.7 428.0,1133.3 431.2,1131.1 432.7,1133.0 435.0,1132.8 437.4,1129.6 438.8,1128.2 439.7,1128.6 442.0,1131.9 443.8,1134.9 446.7,1131.9 448.8,1128.1 451.3,1127.8 453.7,1128.2 456.2,1126.7 458.3,1124.7 460.0,1122.5 462.5,1133.7 465.3,1128.2 466.2,1126.9 467.7,1126.6 470.0,1127.2 472.3,1126.4 473.8,1129.6 477.5,1136.8 479.3,1131.6 482.5,1131.1 484.0,1131.3 486.2,1136.1 488.6,1133.0 491.2,1134.1 493.3,1137.5 495.0,1140.1 497.9,1135.7 500.0,1137.8 502.6,1140.2 504.9,1136.6 507.3,1137.6 510.0,1138.8 511.9,1139.7 514.3,1141.0 516.6,1140.2 518.8,1140.5 521.2,1139.5 523.6,1137.1 525.9,1133.6 527.5,1133.5 530.6,1135.7 532.9,1137.6 535.0,1138.0 537.6,1132.7 540.0,1130.8 542.2,1129.0 544.5,1132.5 547.5,1132.5 549.2,1131.0 551.5,1127.5 553.9,1125.5 555.0,1128.1 556.2,1126.8 558.5,1129.4 560.0,1127.7 563.2,1124.6 566.2,1122.1 567.8,1122.2 570.2,1117.0 572.5,1113.8 573.8,1109.7 574.8,1107.0 577.2,1107.3 580.0,1106.2 581.8,1106.1 584.2,1104.3 586.2,1104.8 588.8,1104.0 591.2,1102.5 593.5,1105.5 595.0,1105.6 598.1,1110.3 600.0,1112.4 602.8,1110.2 605.0,1110.1 607.5,1112.5 609.8,1117.0 612.5,1122.0 614.4,1120.4 616.2,1116.6 619.1,1119.3 621.4,1120.1 622.5,1123.0 623.8,1125.2 626.1,1124.9 628.8,1123.5 630.8,1124.9 633.1,1124.5 636.2,1124.5 637.7,1125.5 640.1,1128.8 642.4,1128.9 643.8,1131.9 644.7,1132.8 647.1,1134.2 648.8,1129.4 651.7,1131.9 654.1,1133.8 656.4,1136.0 657.5,1137.3 658.7,1132.1 661.0,1135.3 663.8,1131.9 665.7,1132.9 668.0,1132.4 671.2,1136.8 672.7,1138.8 675.0,1137.3 677.5,1136.2 678.0,1135.0 679.7,1133.8 682.0,1135.1 684.3,1135.5 685.5,1135.5 686.7,1138.2 689.0,1136.9 691.3,1134.2 693.0,1134.9 696.0,1137.2 698.3,1136.0 700.5,1133.8 703.0,1136.0 705.3,1139.8 706.8,1140.1 710.0,1136.4 713.0,1135.5 714.6,1135.9 717.0,1137.4 719.2,1135.8 721.6,1134.3 724.2,1129.5 726.3,1130.6 728.6,1132.4 731.8,1132.5 733.3,1130.7 735.6,1126.1 736.8,1130.6 737.9,1130.4 740.5,1135.4 742.6,1132.8 745.5,1130.0 747.3,1130.9 749.6,1131.5 751.9,1129.9 753.0,1128.5 754.2,1130.5 756.6,1128.6 758.0,1131.2 758.9,1128.7 761.8,1125.4 763.6,1126.3 766.8,1126.1 768.2,1123.3 770.6,1119.9 771.8,1117.9 772.9,1118.4 775.2,1119.3 778.0,1116.4 779.9,1117.1 782.2,1116.1 784.5,1115.5 785.5,1114.4 786.9,1113.3 789.2,1112.1 791.5,1113.1 793.0,1109.7 796.2,1112.2 798.0,1113.8 800.8,1110.1 803.2,1108.9 805.5,1109.5 808.0,1106.6 810.2,1108.3 812.5,1107.7 814.2,1109.0 817.2,1111.9 819.2,1113.8 821.8,1112.2 824.2,1110.1 826.8,1114.8 828.8,1112.7 831.1,1112.1 834.2,1109.2 835.8,1104.6 838.1,1104.7 840.5,1103.3 841.8,1103.4 842.8,1103.9 845.1,1100.7 847.4,1105.8 849.2,1106.1 852.1,1099.8 854.4,1096.3 855.5,1096.4 856.8,1099.9 859.2,1100.1 861.4,1095.5 864.2,1095.4 866.1,1091.9 868.4,1088.7 870.5,1086.1 873.1,1083.0 875.4,1080.4 876.8,1077.0 877.7,1073.4 879.2,1068.8 882.4,1064.4 884.2,1064.4 887.1,1064.3 889.2,1058.2 891.7,1060.2 894.0,1061.6 895.5,1064.2 898.7,1067.1 900.5,1070.7 903.4,1078.6 905.5,1078.2 908.0,1082.7 910.4,1082.7 911.8,1085.1 912.7,1087.9 915.5,1092.6 917.3,1095.2 919.7,1097.8 921.8,1098.9 924.3,1097.1 926.7,1097.9 928.0,1098.5 929.0,1098.1 931.3,1098.8 933.7,1101.3 935.5,1104.1 938.3,1099.1 939.2,1097.4 940.6,1097.1 943.0,1101.3 944.2,1102.0 945.3,1099.3 947.6,1101.0 950.5,1099.3 952.3,1098.0 954.6,1096.6 957.0,1098.4 958.0,1095.5 959.3,1096.8 961.8,1098.0 963.9,1092.8 965.5,1089.1 969.2,1081.8 970.9,1081.3 973.3,1079.4 975.5,1078.8 978.0,1066.2 980.3,1062.5 983.0,1059.5 984.9,1056.5 988.0,1049.8 989.6,1044.5 991.8,1040.0 994.2,1032.1 995.5,1029.0 996.6,1026.5 999.2,1015.1 1001.8,1006.3 1003.6,1006.7 1005.5,1004.1 1008.2,1006.3 1010.5,1010.0 1011.8,1009.1 1012.9,1015.8 1014.2,1019.7 1015.2,1023.5 1016.8,1034.6 1020.5,1047.8 1022.2,1052.0 1024.2,1060.3 1026.9,1066.0 1028.0,1071.5 1029.2,1075.6 1031.5,1079.7 1033.0,1083.4 1036.2,1084.2 1039.2,1088.5 1040.8,1088.4 1043.2,1085.9 1044.2,1087.7 1045.5,1089.1 1048.0,1092.1 1050.2,1092.6 1052.5,1094.6 1055.5,1091.8 1057.1,1095.3 1059.5,1092.7 1061.8,1095.3 1063.0,1094.8 1064.1,1093.5 1066.8,1089.1 1068.8,1090.8 1071.1,1093.0 1073.0,1093.3 1075.8,1097.6 1078.0,1096.2 1080.4,1094.2 1082.8,1095.4 1085.1,1094.3 1088.0,1094.4 1089.8,1095.9 1092.1,1096.9 1094.4,1097.6 1096.8,1094.5 1099.1,1096.4 1101.4,1095.7 1103.0,1098.2 1106.8,1095.6 1108.4,1099.6 1110.5,1101.8 1113.1,1099.9 1115.4,1099.8 1118.0,1100.0 1120.1,1101.5 1122.4,1103.5 1124.7,1103.5 1126.8,1106.1 1129.4,1106.2 1131.7,1100.8 1133.0,1101.6 1134.0,1101.0 1136.4,1102.4 1138.7,1103.3 1141.0,1103.2 1143.0,1102.6 1145.7,1102.7 1148.0,1102.3 1150.3,1103.8 1153.0,1104.4 1155.0,1102.1 1157.3,1104.6 1159.7,1106.8 1162.0,1105.6 1163.0,1104.2 1164.3,1105.5 1166.7,1107.9 1168.0,1106.9 1169.0,1106.6 1171.3,1103.6 1173.6,1102.6 1175.5,1103.2 1178.3,1103.1 1180.6,1102.5 1183.0,1103.3 1185.5,1101.5 1187.6,1102.9 1190.0,1104.7 1191.8,1107.0 1194.6,1104.7 1196.9,1106.5 1199.2,1106.3 1201.6,1104.9 1203.9,1106.1 1206.0,1107.8 1208.6,1105.1 1210.9,1108.0 1213.5,1105.7 1215.6,1106.8 1218.5,1111.1 1220.2,1116.0 1222.6,1116.3 1224.8,1119.7 1227.2,1117.5 1229.8,1116.1 1231.9,1111.9 1234.2,1117.5 1237.2,1118.3 1238.9,1115.1 1241.2,1121.3 1243.5,1119.3 1245.9,1118.9 1248.2,1119.5 1249.8,1116.8 1253.5,1122.2 1255.2,1122.6 1257.5,1119.7 1259.8,1119.7 1262.2,1121.5 1264.5,1122.6 1266.8,1125.0 1269.8,1124.2 1271.5,1122.4 1273.8,1121.1 1276.2,1122.3 1278.5,1121.4 1280.8,1117.4 1282.2,1117.2 1283.2,1119.7 1286.0,1122.6 1287.8,1123.1 1290.1,1120.9 1292.5,1118.9 1293.5,1119.9 1294.8,1121.9 1297.1,1118.3 1299.5,1118.8 1301.0,1115.9 1304.1,1118.2 1306.5,1116.6 1308.5,1116.7 1311.1,1115.7 1313.5,1113.1 1315.8,1111.7 1318.1,1107.4 1319.8,1104.2 1322.8,1101.3 1324.8,1098.7 1327.4,1092.3 1328.5,1088.4 1329.8,1086.2 1332.2,1082.0 1334.4,1074.8 1336.0,1069.9 1339.8,1060.4 1341.4,1056.8 1343.5,1051.7 1346.1,1048.1 1348.5,1046.3 1350.7,1045.6 1353.0,1044.0 1355.4,1044.6 1358.5,1049.4 1360.0,1051.7 1362.4,1055.6 1363.5,1059.9 1364.7,1063.6 1367.2,1072.0 1369.4,1076.6 1371.0,1079.8 1373.0,1092.9 1374.0,1095.6 1377.2,1103.1 1378.7,1104.7 1381.0,1110.1 1383.3,1113.0 1385.7,1114.1 1387.2,1116.8 1390.3,1122.9 1392.2,1122.1 1395.0,1121.3 1397.3,1122.2 1399.7,1122.2 1401.0,1118.6 1402.0,1118.1 1404.3,1119.8 1406.0,1123.1 1409.0,1122.9 1411.3,1122.0 1413.5,1121.9 1416.0,1125.3 1418.5,1127.0 1420.6,1124.4 1423.0,1124.4 1426.0,1123.7 1427.6,1121.2 1429.9,1125.7 1432.3,1123.5 1433.5,1124.3 1434.6,1126.3 1436.9,1127.5 1439.8,1130.1 1441.6,1128.4 1443.9,1128.9 1446.0,1124.8 1448.6,1125.4 1450.9,1127.3 1453.5,1123.8 1455.6,1123.5 1457.9,1123.8 1461.0,1121.0 1462.6,1118.9 1464.9,1119.7 1467.2,1116.8 1469.6,1115.5 1471.9,1114.6 1474.8,1113.2 1476.5,1114.1 1478.9,1114.9 1481.0,1111.0 1483.5,1108.9 1486.0,1103.9 1488.2,1104.4 1491.0,1109.1 1492.9,1108.5 1495.2,1110.1 1497.2,1108.0 1499.8,1106.8 1502.2,1106.0 1504.5,1107.6 1506.8,1109.0 1508.5,1111.7 1512.2,1117.3 1513.8,1117.4 1516.2,1122.0 1518.5,1124.2 1520.8,1127.2 1523.5,1129.5 1525.5,1130.7 1527.8,1134.0 1529.8,1134.5 1532.5,1134.0 1534.8,1133.7 1536.0,1132.0 1537.1,1132.6 1539.5,1131.7 1541.8,1129.7 1543.5,1131.7 1546.4,1131.3 1548.8,1128.6 1551.0,1127.6 1553.4,1128.5 1555.8,1129.0 1558.5,1127.8 1560.4,1128.3 1562.8,1129.3 1565.1,1131.1 1566.0,1128.6 1567.4,1133.2 1568.5,1134.5 1569.7,1134.7 1572.1,1133.6 1574.4,1134.9 1576.0,1135.0 1579.1,1138.3 1582.2,1140.4 1583.7,1140.2 1586.0,1137.4 1588.4,1137.7 1590.7,1137.8 1593.5,1138.2 1595.4,1137.4 1597.7,1137.2 1600.0,1136.0 1601.0,1138.0 1602.4,1137.6 1604.7,1140.9 1607.0,1138.7 1609.8,1145.1 1611.7,1144.8 1614.0,1149.1 1616.0,1146.0 1618.7,1147.6 1621.0,1149.8 1622.2,1147.8 1623.3,1150.0 1625.7,1147.0 1628.0,1148.7 1631.0,1147.1 1632.7,1145.6 1635.0,1144.4 1637.2,1142.6 1639.6,1143.0 1642.2,1146.0 1644.3,1145.0 1646.6,1145.2 1649.8,1144.3 1651.3,1141.8 1653.6,1139.3 1656.0,1138.3 1658.3,1134.6 1661.0,1133.2 1662.9,1128.3 1666.0,1123.7 1667.6,1119.4 1669.9,1117.6 1671.0,1114.5 1672.3,1116.2 1674.8,1108.6 1676.9,1113.4 1679.8,1115.6 1681.6,1120.1 1684.8,1120.2 1686.2,1124.4 1688.5,1130.7 1690.9,1136.5 1693.5,1139.9 1695.6,1141.9 1697.9,1141.3 1699.8,1143.8 1702.6,1143.2 1704.9,1142.3 1706.0,1142.3 1707.2,1144.5 1709.5,1142.9 1711.9,1147.2 1713.5,1145.4 1716.5,1151.2 1718.5,1150.5 1721.2,1155.4 1723.5,1157.5 1724.8,1157.9 1725.9,1158.1 1728.2,1158.2 1729.8,1157.6 1732.8,1161.2 1734.0,1161.7 1735.2,1161.5 1737.5,1161.2 1739.0,1161.1 1742.2,1161.8 1744.5,1165.1 1746.5,1164.9 1749.2,1166.0 1751.5,1168.7 1754.0,1170.1 1756.1,1169.1 1758.5,1169.2 1761.5,1166.9 1763.1,1167.7 1765.5,1170.1 1767.8,1173.3 1770.1,1173.5 1772.5,1170.5 1774.0,1169.1 1777.1,1169.1 1779.4,1172.2 1781.5,1170.2 1784.1,1169.0 1786.4,1171.0 1789.0,1171.8 1791.1,1172.0 1793.4,1174.7 1796.5,1176.1 1798.1,1178.6 1799.0,1180.8 1800.4,1177.7 1802.7,1177.7 1804.0,1174.4 1805.1,1175.1 1807.4,1176.8 1809.7,1175.6 1811.5,1178.0 1814.4,1180.0 1816.7,1179.8 1819.0,1179.8 1821.4,1181.2 1823.7,1179.0 1825.2,1180.0 1828.4,1177.4 1830.2,1175.7 1833.0,1182.9 1834.0,1182.2 1835.4,1181.3 1837.7,1181.1 1839.0,1179.3 1840.0,1179.2 1842.4,1182.2 1844.7,1180.3 1846.5,1179.9 1849.3,1178.6 1851.7,1180.7 1854.0,1181.8 1856.3,1182.3 1859.0,1183.8 1861.0,1184.0 1863.3,1183.6 1866.5,1180.9 1868.0,1180.6 1870.3,1180.0 1872.6,1179.7 1874.0,1180.5 1875.0,1182.4 1877.3,1182.3 1880.2,1186.4 1882.0,1184.4 1884.3,1184.0 1886.5,1183.8 1889.0,1184.9 1891.3,1180.4 1894.0,1184.6 1895.9,1184.9 1898.3,1185.6 1901.5,1184.9 1902.9,1185.6 1905.3,1189.1 1906.5,1188.5 1907.6,1185.7 1909.9,1187.5 1912.3,1185.9 1914.0,1186.7 1916.9,1186.6 1919.2,1189.6 1921.5,1187.3 1923.9,1186.5 1926.2,1186.1 1929.0,1188.9 1930.9,1189.4 1933.2,1189.6 1935.6,1189.2 1936.5,1186.9 1937.9,1186.0 1940.2,1188.9 1942.5,1187.0 1944.0,1189.4 1947.2,1185.9 1949.5,1187.0 1951.5,1187.7 1954.2,1188.0 1956.5,1190.1 1959.0,1186.3 1961.2,1190.3 1963.5,1192.3 1966.5,1192.2 1968.2,1193.4 1970.5,1191.9 1972.8,1192.4 1974.0,1191.3 1975.2,1188.9 1977.5,1190.8 1980.2,1189.9 1982.2,1186.9 1984.5,1189.8 1986.5,1192.2 1989.1,1191.5 1991.5,1195.0 1993.8,1192.3 1996.1,1191.4 1999.0,1192.5 2000.8,1190.5 2003.1,1193.1 2005.5,1192.4 2006.5,1195.6 2007.8,1195.4 2010.1,1195.0 2012.4,1194.8 2014.0,1194.5 2017.1,1192.3 2019.4,1194.5 2021.8,1194.8 2023.2,1192.5 2023.5,1193.1"/>
<polyline fill="none" stroke="#008000" stroke-width="7.2" stroke-linejoin="round" stroke-linecap="butt" points="164.8,1065.3 165.0,1064.8 167.1,1065.4 169.4,1066.0 171.7,1064.6 174.1,1065.7 176.4,1065.1 177.5,1066.2 178.7,1067.2 181.1,1063.2 182.5,1062.9 185.7,1062.3 188.1,1062.0 190.4,1062.9 192.7,1062.8 195.0,1062.7 197.4,1061.2 199.7,1062.2 202.0,1059.1 205.0,1060.9 206.7,1060.7 209.0,1061.5 211.4,1062.2 213.7,1062.9 215.0,1064.4 216.0,1063.7 218.8,1060.8 220.7,1063.1 223.0,1061.2 225.3,1061.3 227.5,1064.4 230.0,1064.4 232.3,1063.5 234.7,1061.6 237.0,1063.2 239.3,1061.6 242.5,1063.3 244.0,1062.0 246.3,1061.8 248.6,1063.2 251.0,1062.8 252.5,1063.0 255.6,1062.0 258.0,1060.7 260.3,1062.0 262.5,1061.5 264.9,1060.4 267.3,1061.0 269.6,1060.0 271.9,1057.1 273.8,1058.1 276.6,1063.4 278.8,1064.8 281.3,1064.7 283.6,1064.1 286.2,1062.3 288.2,1062.5 290.6,1064.5 292.9,1063.3 295.0,1063.8 297.6,1062.9 299.9,1063.4 302.2,1063.9 305.0,1062.5 306.9,1061.1 309.2,1063.9 311.5,1062.5 313.9,1061.7 315.0,1063.0 316.2,1060.0 318.5,1064.3 321.2,1065.5 323.2,1065.7 325.5,1065.2 327.5,1062.7 330.2,1062.0 332.5,1061.7 334.8,1061.6 336.2,1061.3 337.2,1061.4 340.0,1062.7 341.8,1062.8 344.2,1062.5 346.5,1061.2 348.8,1061.5 350.0,1060.7 351.2,1061.6 353.5,1060.8 356.2,1057.7 358.1,1060.3 360.0,1061.9 362.8,1060.3 365.1,1058.2 367.5,1057.4 369.8,1056.4 372.1,1053.9 375.0,1051.5 376.8,1051.9 379.1,1053.7 381.2,1053.6 383.8,1055.6 386.1,1053.2 387.5,1056.5 388.4,1057.8 390.8,1057.1 393.8,1056.2 395.4,1058.5 397.8,1058.9 400.0,1060.8 402.4,1061.2 405.0,1063.1 407.1,1064.7 409.4,1062.1 411.2,1062.0 414.1,1061.6 416.2,1061.4 418.7,1060.4 421.1,1061.2 423.4,1060.7 425.0,1061.6 428.0,1060.4 430.4,1058.8 432.5,1058.6 435.0,1056.7 437.4,1054.8 440.0,1056.3 442.0,1055.6 444.4,1057.3 446.2,1053.1 449.0,1051.8 451.3,1050.3 453.8,1050.7 456.0,1051.3 458.3,1050.1 460.0,1051.7 462.5,1045.1 465.3,1044.1 466.2,1043.1 467.7,1045.6 470.0,1047.5 472.3,1046.3 475.0,1048.1 477.0,1048.4 480.0,1051.4 481.6,1052.9 484.0,1056.1 485.0,1056.2 486.3,1056.3 488.6,1056.7 491.0,1058.2 493.8,1057.7 495.6,1059.4 497.9,1061.0 500.0,1061.2 502.6,1062.5 504.9,1062.0 507.3,1062.5 508.8,1063.9 511.9,1065.8 514.3,1062.9 516.2,1063.4 518.9,1062.4 521.2,1065.2 523.6,1064.6 525.0,1064.3 525.9,1063.7 528.2,1062.4 530.6,1063.8 532.9,1063.0 535.2,1062.2 537.5,1062.3 539.9,1062.0 542.2,1062.6 544.5,1057.8 547.5,1059.9 549.2,1057.0 551.2,1055.9 553.9,1055.8 556.2,1056.4 557.5,1055.9 558.5,1055.7 560.9,1052.5 563.2,1051.5 565.0,1048.9 567.8,1044.4 570.2,1043.3 572.5,1040.4 574.8,1031.6 577.5,1022.0 579.5,1018.4 581.8,1014.9 583.8,1010.7 586.5,1008.5 589.5,1007.0 591.1,1008.3 593.5,1009.3 595.0,1009.3 598.1,1009.3 600.5,1012.3 602.5,1012.1 605.1,1014.9 607.5,1015.9 609.8,1017.5 612.1,1021.9 613.8,1022.7 617.5,1029.7 619.1,1032.1 621.4,1032.4 623.8,1034.3 625.0,1035.3 626.1,1035.8 628.4,1036.7 631.2,1038.9 633.1,1039.5 635.4,1040.5 637.7,1044.0 640.0,1042.7 642.4,1045.4 644.7,1045.6 647.5,1048.9 649.4,1053.2 651.7,1055.0 654.1,1056.3 656.2,1058.5 658.7,1060.5 661.0,1061.5 663.4,1060.5 665.0,1061.0 668.0,1060.3 670.4,1061.9 672.7,1062.6 673.8,1062.3 675.0,1064.2 677.5,1062.1 678.0,1062.1 679.7,1062.6 682.0,1063.9 684.3,1063.8 685.5,1064.4 686.7,1060.8 689.0,1063.5 691.3,1060.0 693.0,1060.8 696.0,1060.2 698.3,1061.5 700.7,1062.0 703.0,1062.4 705.3,1061.8 707.6,1060.5 710.0,1059.5 712.3,1058.5 714.2,1058.2 717.0,1057.6 719.3,1060.7 721.6,1060.0 723.0,1061.7 724.0,1061.3 726.3,1063.3 728.6,1063.1 731.8,1065.0 733.3,1064.3 735.6,1063.9 738.0,1061.2 740.3,1061.6 742.6,1058.6 744.9,1059.8 747.3,1060.9 749.6,1058.4 750.5,1057.8 751.9,1056.0 754.2,1057.5 756.6,1056.1 758.9,1058.5 761.2,1057.3 763.0,1057.4 765.9,1057.3 768.2,1055.1 770.6,1055.1 773.0,1055.6 775.2,1054.5 777.5,1056.3 779.9,1052.4 783.0,1051.7 784.5,1051.2 786.8,1054.6 789.2,1053.8 791.5,1050.0 793.9,1047.7 795.5,1045.9 798.5,1045.1 800.8,1044.0 803.0,1041.8 805.5,1042.5 807.8,1044.4 810.2,1045.1 813.0,1043.6 814.8,1043.1 817.2,1044.8 819.5,1045.6 820.5,1044.5 821.8,1046.5 824.1,1048.3 826.8,1049.5 828.8,1048.2 831.1,1045.0 833.0,1044.2 835.8,1040.1 838.1,1041.2 840.5,1037.6 842.8,1037.1 845.1,1035.2 848.0,1033.9 849.8,1035.5 852.1,1032.3 854.4,1032.1 855.5,1032.7 856.8,1033.1 859.1,1031.0 861.4,1028.2 864.2,1025.8 866.1,1025.5 868.4,1020.5 870.7,1019.5 873.0,1015.6 875.4,1011.5 878.0,1004.8 880.1,1000.9 882.4,995.9 884.2,992.8 887.1,982.3 889.2,975.7 891.7,972.6 893.0,970.0 894.0,966.8 896.4,967.3 898.0,966.4 901.0,969.8 903.0,972.2 905.7,976.9 908.0,981.2 910.4,987.0 913.0,993.8 915.0,997.2 918.0,1004.1 919.7,1008.0 921.8,1012.3 924.3,1015.2 926.7,1018.2 928.0,1023.6 929.0,1028.0 931.3,1029.0 933.0,1031.1 936.0,1030.5 938.3,1034.2 939.2,1033.1 940.6,1036.6 943.0,1035.4 945.3,1035.2 947.6,1034.4 949.2,1034.7 953.0,1037.3 954.6,1037.6 957.0,1034.8 959.3,1035.7 960.5,1033.6 961.6,1032.1 963.9,1030.3 965.5,1028.5 969.2,1025.3 970.9,1025.3 973.3,1024.5 974.2,1023.4 975.6,1018.2 977.9,1014.1 979.2,1010.0 980.3,1006.4 983.0,997.4 984.9,993.0 987.2,988.2 989.2,985.2 991.9,979.1 994.2,972.4 996.6,964.2 999.2,955.5 1001.2,945.8 1003.0,937.3 1006.0,917.8 1008.5,900.1 1009.2,895.4 1010.5,894.1 1013.5,891.2 1015.2,893.6 1018.0,896.4 1018.5,900.3 1019.9,906.4 1021.8,917.7 1024.2,937.4 1027.5,960.0 1029.2,972.2 1030.5,979.9 1031.5,984.3 1034.2,998.0 1036.2,1005.8 1038.0,1013.0 1040.8,1018.2 1043.0,1020.9 1045.5,1023.7 1047.8,1026.6 1050.5,1028.7 1052.5,1031.3 1054.8,1033.6 1058.0,1034.4 1059.5,1033.1 1061.8,1035.3 1064.1,1037.4 1066.5,1039.2 1068.0,1040.2 1071.1,1040.2 1073.5,1042.1 1075.8,1041.4 1078.0,1043.1 1080.4,1043.7 1083.0,1047.9 1085.1,1048.1 1087.4,1045.7 1090.5,1048.3 1092.1,1049.1 1094.4,1048.5 1096.8,1049.6 1098.0,1046.0 1099.1,1047.3 1101.4,1050.8 1103.0,1051.6 1106.1,1052.9 1108.4,1052.1 1110.7,1050.7 1113.0,1051.2 1115.4,1050.6 1117.7,1050.8 1120.1,1051.7 1123.0,1052.6 1124.7,1051.8 1127.0,1052.9 1129.4,1056.8 1130.5,1054.0 1131.7,1054.3 1134.0,1053.1 1136.4,1052.7 1138.0,1051.0 1141.0,1050.3 1143.4,1051.6 1145.7,1048.7 1148.0,1050.1 1150.3,1053.2 1152.7,1051.1 1155.5,1052.1 1157.3,1052.4 1159.7,1053.6 1162.0,1056.4 1164.3,1055.4 1165.5,1055.9 1166.7,1055.8 1169.0,1053.5 1171.3,1053.5 1174.2,1052.0 1176.0,1054.1 1178.0,1055.1 1180.6,1058.0 1183.0,1054.9 1185.3,1054.6 1188.0,1052.3 1190.0,1053.6 1192.3,1053.8 1194.6,1051.9 1196.9,1050.5 1198.0,1052.3 1199.3,1052.7 1201.6,1050.5 1203.9,1052.4 1206.0,1052.0 1208.6,1051.4 1210.9,1051.2 1213.3,1052.5 1216.0,1054.3 1217.9,1053.1 1220.2,1054.7 1222.6,1055.0 1224.8,1055.5 1227.2,1052.8 1229.6,1055.0 1231.9,1055.2 1233.5,1054.4 1236.6,1054.9 1238.9,1056.1 1241.2,1052.5 1243.5,1054.4 1245.9,1054.3 1248.2,1055.3 1250.5,1057.3 1252.2,1057.1 1255.2,1056.8 1257.5,1054.6 1259.9,1054.8 1261.0,1052.7 1262.2,1052.9 1264.5,1055.2 1267.2,1054.2 1269.2,1054.2 1271.5,1052.5 1273.5,1051.2 1276.2,1050.1 1278.5,1049.5 1280.8,1050.4 1283.5,1049.8 1285.5,1050.6 1287.8,1048.2 1290.1,1048.9 1292.5,1047.4 1293.5,1046.6 1294.8,1045.2 1297.1,1046.8 1299.5,1045.0 1301.0,1044.1 1304.8,1039.4 1306.5,1041.0 1308.8,1039.5 1311.0,1040.5 1313.4,1040.2 1315.8,1038.8 1317.2,1036.4 1320.4,1030.9 1322.2,1030.0 1325.1,1022.3 1326.0,1021.4 1327.4,1015.7 1329.8,1007.7 1332.1,997.2 1333.5,992.5 1334.4,987.8 1336.5,974.8 1339.8,960.0 1342.2,941.8 1343.7,936.1 1345.5,927.7 1349.0,915.0 1350.7,912.2 1353.0,907.8 1355.4,906.1 1356.8,903.4 1357.7,903.1 1360.0,909.3 1361.0,910.3 1362.4,911.2 1365.5,915.6 1367.0,921.7 1368.0,924.8 1369.4,933.4 1371.0,942.6 1373.5,957.8 1376.0,972.0 1378.5,987.0 1381.0,997.6 1382.2,1002.1 1383.3,1006.5 1386.0,1016.1 1388.0,1021.3 1391.0,1028.9 1392.7,1029.8 1395.0,1032.2 1397.2,1035.3 1399.7,1036.6 1402.0,1037.9 1403.5,1040.1 1406.6,1041.6 1409.0,1044.7 1411.0,1043.5 1413.6,1044.4 1416.0,1043.6 1418.5,1046.2 1420.6,1046.6 1423.0,1050.5 1426.0,1049.9 1427.6,1049.9 1429.9,1049.0 1432.3,1052.9 1433.5,1053.4 1434.6,1051.8 1436.9,1051.9 1439.8,1054.7 1441.6,1055.6 1443.9,1054.4 1446.3,1051.7 1447.2,1053.6 1448.6,1052.5 1450.9,1055.1 1453.5,1053.4 1455.6,1054.1 1458.5,1055.1 1460.2,1055.7 1462.6,1054.3 1464.9,1053.4 1466.0,1052.0 1467.2,1051.3 1469.6,1049.3 1471.9,1048.3 1473.5,1048.5 1476.5,1047.9 1478.9,1042.5 1481.0,1045.0 1483.5,1043.5 1485.9,1041.1 1487.2,1040.9 1488.2,1039.5 1490.5,1037.4 1493.5,1033.7 1495.2,1033.9 1497.5,1029.3 1498.5,1031.4 1499.8,1032.6 1502.2,1029.6 1504.5,1028.4 1506.0,1029.0 1509.2,1031.3 1511.5,1032.2 1513.5,1032.2 1516.2,1033.5 1517.2,1036.5 1518.5,1037.0 1521.0,1044.8 1523.1,1047.0 1526.0,1052.7 1527.8,1055.7 1530.1,1057.3 1532.2,1058.8 1534.8,1061.4 1537.1,1060.4 1538.5,1062.1 1539.5,1060.5 1541.8,1065.3 1544.0,1067.6 1546.4,1065.3 1548.5,1061.4 1551.0,1056.2 1553.4,1057.4 1556.0,1056.2 1558.1,1054.2 1561.0,1051.2 1562.8,1053.0 1565.1,1051.4 1566.0,1052.0 1567.4,1053.4 1569.7,1056.9 1571.0,1059.3 1572.1,1061.9 1574.4,1060.7 1576.7,1063.2 1578.5,1063.8 1581.4,1064.9 1583.7,1062.9 1586.0,1064.0 1588.4,1067.9 1590.7,1065.4 1592.2,1066.7 1595.4,1069.1 1597.2,1068.6 1600.0,1072.9 1602.2,1074.7 1604.7,1075.7 1607.0,1079.0 1608.5,1079.8 1611.7,1078.6 1614.0,1079.5 1616.0,1079.9 1618.7,1081.9 1621.0,1080.9 1623.5,1080.7 1625.7,1080.3 1628.0,1079.7 1630.3,1081.1 1632.2,1082.3 1635.0,1080.7 1637.3,1080.3 1638.5,1078.4 1639.6,1078.0 1642.0,1078.0 1643.5,1076.5 1646.6,1078.8 1649.0,1078.3 1651.0,1077.3 1653.6,1074.8 1656.0,1073.3 1657.2,1072.9 1658.3,1070.7 1660.6,1070.5 1662.2,1066.0 1665.3,1061.3 1667.2,1058.7 1669.9,1050.0 1671.0,1048.2 1672.3,1043.8 1673.5,1037.4 1674.6,1031.6 1676.0,1025.6 1676.9,1022.4 1679.8,1017.2 1681.6,1016.2 1683.9,1016.6 1685.5,1014.7 1688.6,1023.1 1689.8,1025.1 1690.9,1028.8 1692.2,1034.7 1693.2,1037.7 1696.0,1047.7 1697.9,1054.0 1699.8,1059.8 1702.6,1067.0 1703.5,1069.8 1704.9,1073.3 1707.2,1076.3 1708.5,1078.4 1709.5,1081.3 1711.9,1081.9 1713.5,1083.7 1716.5,1084.9 1719.8,1086.2 1721.2,1086.4 1723.5,1089.3 1726.0,1089.8 1728.2,1090.5 1730.5,1090.8 1732.8,1092.4 1734.0,1092.6 1735.2,1092.7 1737.5,1091.0 1739.0,1093.1 1742.2,1095.2 1744.5,1096.4 1746.5,1097.8 1749.2,1099.2 1751.5,1097.4 1753.8,1098.6 1756.5,1098.4 1758.5,1097.1 1760.8,1100.5 1764.0,1100.2 1765.5,1101.4 1767.8,1100.3 1770.1,1098.8 1772.5,1099.6 1774.0,1099.6 1777.1,1099.3 1779.4,1100.1 1781.8,1100.4 1784.0,1100.6 1786.4,1099.9 1788.8,1102.1 1790.2,1102.3 1793.4,1098.9 1795.8,1098.9 1797.8,1097.9 1800.4,1099.7 1802.7,1101.2 1804.0,1101.7 1805.1,1101.3 1807.4,1102.5 1809.0,1104.0 1812.1,1103.3 1814.4,1102.1 1816.5,1101.6 1819.1,1103.5 1821.4,1100.4 1824.0,1101.0 1826.0,1103.9 1829.0,1105.2 1830.7,1103.8 1833.0,1104.0 1835.4,1102.0 1836.5,1103.1 1837.7,1104.0 1840.0,1105.2 1842.4,1104.2 1844.0,1103.6 1847.0,1102.6 1849.3,1102.6 1851.5,1102.7 1854.0,1103.4 1856.3,1104.2 1859.0,1105.0 1861.0,1105.7 1863.3,1104.9 1865.7,1106.6 1868.0,1107.0 1869.0,1106.4 1870.3,1107.9 1872.6,1106.6 1875.2,1108.2 1877.3,1105.0 1879.6,1109.2 1882.0,1105.9 1884.0,1106.7 1886.6,1105.5 1889.0,1108.4 1891.3,1108.5 1894.0,1107.9 1895.9,1108.9 1898.3,1105.8 1900.6,1105.9 1902.9,1106.0 1904.0,1106.4 1905.3,1108.2 1907.6,1107.8 1909.9,1108.1 1911.5,1107.8 1915.2,1112.6 1916.9,1109.4 1919.2,1109.8 1920.2,1107.7 1921.6,1107.8 1923.9,1107.7 1926.2,1109.6 1929.0,1108.1 1930.9,1109.9 1933.2,1109.1 1935.6,1109.7 1936.5,1109.8 1937.9,1108.5 1940.2,1110.1 1942.5,1109.5 1944.0,1107.5 1947.2,1109.1 1949.5,1110.2 1951.5,1111.3 1954.2,1108.9 1956.5,1108.1 1959.0,1108.8 1961.2,1109.0 1963.5,1108.7 1965.8,1111.8 1969.0,1111.6 1970.5,1111.0 1972.8,1110.3 1975.2,1109.4 1976.5,1109.9 1977.5,1108.7 1979.8,1110.8 1982.2,1112.0 1984.0,1112.6 1986.8,1112.1 1989.1,1111.0 1991.5,1109.5 1993.8,1110.3 1996.1,1113.8 1999.0,1113.5 2000.8,1114.1 2003.1,1113.9 2005.5,1116.3 2006.5,1114.7 2007.8,1112.6 2010.1,1114.1 2012.4,1113.8 2014.0,1112.3 2017.1,1113.8 2019.4,1116.1 2021.8,1112.0 2023.2,1114.9 2023.5,1114.1"/>
<polyline fill="none" stroke="#ff8000" stroke-width="7.2" stroke-linejoin="round" stroke-linecap="butt" points="164.8,938.4 165.0,938.7 167.1,937.9 169.4,936.7 172.5,934.0 174.1,933.7 176.4,936.2 178.7,933.8 181.1,933.3 182.5,932.8 185.7,933.6 188.1,933.4 190.4,933.0 192.7,933.4 193.8,933.6 195.0,935.7 197.4,935.8 200.0,939.9 202.0,937.2 204.4,934.9 207.5,935.8 209.0,936.5 211.4,936.6 213.7,937.2 216.0,939.0 218.3,939.5 220.0,940.6 223.0,941.5 225.3,940.8 227.7,937.0 230.0,939.4 232.5,938.5 234.7,937.9 237.0,940.0 239.3,935.5 242.5,939.0 244.0,940.4 246.3,942.2 248.8,943.5 251.0,940.5 253.3,943.3 255.6,940.3 258.8,939.4 260.3,938.7 262.6,941.6 264.9,942.9 267.5,943.2 269.6,941.3 271.9,940.4 275.0,940.3 276.6,940.6 278.9,941.1 281.3,942.2 283.6,941.0 285.9,942.4 287.5,941.5 290.6,941.6 292.9,942.8 295.2,941.2 297.6,943.1 300.0,943.5 302.2,942.3 304.6,942.0 306.9,942.1 309.2,941.6 311.5,939.4 312.5,941.5 313.9,940.6 316.2,944.7 318.5,944.8 320.9,942.4 322.5,944.2 326.2,940.7 327.9,940.7 330.2,942.7 332.5,942.3 335.0,941.7 337.2,941.9 339.5,937.6 341.8,938.3 344.2,935.2 346.5,933.3 347.5,934.1 348.8,931.7 351.2,932.6 353.5,930.8 355.0,928.4 358.1,928.8 360.5,927.5 362.5,927.8 365.1,926.9 367.5,929.1 369.8,929.4 372.1,929.0 375.0,931.6 376.8,930.1 379.1,928.7 381.2,928.4 383.8,932.6 386.2,936.5 388.4,938.3 390.8,938.0 393.1,941.5 396.2,942.2 397.8,939.0 400.1,940.5 402.5,938.8 404.7,938.7 407.5,942.4 409.4,942.0 411.7,940.7 414.1,941.6 416.4,939.9 417.5,940.8 418.7,939.2 421.1,940.4 423.4,939.1 425.0,938.5 428.0,934.1 431.2,935.2 432.7,934.7 435.0,937.5 437.4,937.0 438.8,936.5 439.7,934.4 442.0,926.3 443.8,922.6 446.7,919.3 449.0,916.5 451.3,912.2 452.5,911.0 453.7,909.9 456.0,909.3 458.3,907.8 460.7,909.9 462.0,909.0 463.0,911.3 465.3,913.9 467.7,916.5 468.8,917.6 470.0,921.5 472.3,923.1 475.0,928.4 477.0,931.5 479.3,931.6 481.2,936.4 484.0,936.3 486.3,937.2 488.6,938.3 490.0,937.5 491.0,938.5 493.3,940.1 495.6,942.5 497.5,941.6 500.3,941.5 502.6,941.7 504.9,944.1 507.3,946.1 510.0,945.8 511.9,946.5 514.3,945.2 516.6,945.3 518.9,946.0 521.2,946.8 522.5,945.0 523.6,944.2 525.9,945.0 528.2,946.3 530.6,946.0 532.9,942.1 535.2,944.7 536.2,944.7 537.6,943.4 539.9,942.3 542.5,938.4 544.5,938.7 546.9,937.6 550.0,937.0 551.5,936.5 553.9,933.5 556.2,933.1 558.5,930.1 560.0,928.5 563.2,925.4 565.5,921.3 567.8,918.9 570.0,917.9 572.5,908.9 575.0,900.1 577.2,892.6 580.0,882.1 581.8,879.0 584.2,878.0 586.2,875.1 588.8,878.5 591.1,880.4 592.5,882.2 593.5,882.0 595.8,885.0 597.5,884.2 600.5,889.2 602.5,893.0 605.1,897.7 607.5,900.3 610.0,902.8 612.1,906.9 614.4,908.0 616.8,912.6 620.0,914.9 621.4,915.7 623.8,913.7 625.0,915.8 626.1,917.7 628.4,920.8 630.0,922.3 633.1,923.1 636.2,923.6 637.7,925.9 640.1,928.8 641.2,931.5 642.4,932.9 644.7,933.7 647.1,934.5 650.0,938.1 651.7,939.0 654.1,940.8 656.4,945.6 658.8,945.3 661.0,947.1 663.4,943.4 665.0,944.8 668.0,946.0 670.4,947.4 672.5,948.7 675.0,947.5 677.5,946.7 678.0,947.1 679.7,947.2 682.0,947.1 684.3,949.2 686.7,952.3 688.0,950.4 689.0,948.6 691.3,948.4 693.7,949.8 696.0,945.5 698.0,946.5 700.7,947.4 703.0,948.8 705.3,947.8 707.6,949.9 709.2,951.1 712.3,950.4 714.6,949.9 717.0,949.4 718.0,948.2 719.3,948.0 721.6,948.5 724.0,945.8 725.5,945.4 728.6,948.1 730.9,949.8 733.3,948.8 735.5,949.5 737.9,950.9 740.3,952.2 743.0,952.1 744.9,949.5 747.3,949.2 749.6,946.7 750.5,946.7 751.9,946.1 754.2,943.2 756.6,944.4 758.9,941.4 760.5,942.0 763.6,941.3 765.9,938.9 768.2,937.7 770.5,936.9 772.9,936.4 775.2,936.1 778.0,933.1 779.9,931.2 782.2,929.9 784.5,931.4 786.9,930.2 788.0,931.5 789.2,932.4 791.5,930.5 793.9,928.5 796.2,927.8 798.0,927.6 800.8,928.1 803.2,929.3 805.5,930.0 808.0,931.4 810.2,929.4 812.5,927.7 815.5,926.0 817.2,926.4 819.5,924.0 821.8,923.5 824.2,921.3 826.5,917.4 828.8,915.0 830.5,912.5 833.5,911.3 835.8,909.5 838.0,910.2 840.5,908.8 842.8,906.6 845.5,905.6 847.4,906.7 850.5,907.6 852.1,908.6 854.4,909.1 856.8,904.9 859.1,901.9 861.4,898.8 864.2,893.6 866.1,888.5 869.2,879.9 870.7,876.2 873.1,872.0 874.2,869.6 875.4,863.1 878.0,847.6 880.1,841.6 881.8,835.1 885.5,820.3 887.1,816.8 890.0,811.6 891.7,814.1 894.2,820.3 896.4,826.0 898.0,832.8 900.0,847.5 901.0,850.8 904.2,860.0 905.7,862.4 908.0,872.4 910.4,883.2 911.8,887.5 912.7,887.6 915.5,892.1 917.3,899.8 919.2,904.5 922.0,911.4 924.3,916.2 925.5,917.0 926.7,916.6 929.0,918.8 931.3,917.5 933.0,917.4 936.0,916.0 938.3,916.2 940.5,913.8 943.0,913.8 945.5,913.8 947.6,914.0 950.5,917.4 952.3,916.5 954.6,918.0 957.0,915.2 958.0,914.5 959.3,913.9 961.6,913.0 963.9,910.7 965.5,911.6 969.2,897.7 970.9,890.6 973.3,882.5 974.2,879.9 975.6,877.8 977.9,872.1 979.2,870.0 980.3,867.1 983.0,859.9 984.9,859.7 988.0,857.3 989.6,851.8 991.8,844.6 994.2,835.9 995.5,829.9 996.6,822.0 998.0,809.7 1000.5,785.1 1003.0,760.1 1005.5,735.4 1008.0,726.9 1011.0,719.4 1012.9,728.6 1014.2,734.8 1016.0,759.9 1018.0,784.7 1020.5,810.0 1022.5,834.9 1025.0,860.2 1026.9,872.2 1028.0,880.1 1029.2,886.6 1031.8,894.7 1033.8,900.7 1035.5,905.0 1038.5,909.6 1040.8,912.9 1041.8,913.1 1043.2,915.5 1045.5,916.2 1048.0,919.4 1050.2,923.4 1053.0,927.8 1054.8,929.9 1057.1,929.9 1059.5,932.8 1060.5,933.3 1061.8,936.3 1064.1,941.2 1065.5,942.1 1066.5,942.7 1068.8,945.0 1071.8,949.5 1073.5,951.4 1075.8,950.3 1078.0,950.2 1080.4,950.0 1082.8,952.5 1085.1,952.4 1088.0,954.7 1089.8,955.0 1092.1,955.4 1094.4,956.3 1096.8,957.3 1098.0,958.8 1099.1,959.7 1101.4,958.3 1103.7,959.0 1106.1,957.6 1108.0,959.3 1110.7,956.6 1113.0,957.2 1115.5,963.5 1117.7,961.2 1120.1,959.2 1121.8,957.2 1124.7,957.8 1127.0,956.9 1129.4,956.4 1130.5,958.2 1131.7,956.4 1134.0,954.9 1136.4,955.0 1138.0,954.7 1141.0,954.1 1143.4,951.9 1145.5,949.6 1148.0,952.3 1150.5,954.8 1152.7,955.8 1155.0,957.4 1157.3,958.4 1160.5,959.2 1162.0,958.2 1164.3,957.7 1166.7,958.2 1169.0,955.5 1170.5,955.3 1173.6,956.8 1176.0,956.8 1178.3,956.8 1180.5,958.6 1183.0,957.4 1185.3,957.8 1187.6,958.5 1190.5,958.9 1192.3,958.5 1194.6,958.6 1196.9,963.6 1198.0,962.2 1199.3,961.9 1201.6,960.8 1203.9,960.6 1206.0,959.9 1208.6,957.8 1210.9,958.0 1213.3,957.9 1216.0,958.2 1217.9,958.4 1220.2,957.9 1222.6,959.1 1224.9,958.7 1226.0,960.4 1227.2,960.5 1229.6,960.5 1231.9,961.2 1233.5,962.3 1236.6,961.5 1238.9,960.9 1241.2,961.2 1243.5,959.7 1245.9,958.9 1248.2,956.1 1250.5,956.2 1253.5,955.0 1255.2,956.0 1257.5,955.7 1259.9,957.7 1261.0,955.8 1262.2,956.8 1264.5,956.7 1266.8,955.2 1269.2,956.9 1271.0,957.5 1273.8,955.4 1276.2,956.3 1278.5,954.3 1280.8,954.8 1283.2,953.0 1286.0,953.2 1287.8,951.8 1291.0,950.7 1292.5,950.9 1294.8,953.2 1296.0,952.3 1297.1,950.3 1299.5,950.2 1302.2,945.1 1304.1,942.0 1306.5,938.5 1308.5,937.1 1311.1,931.7 1313.5,927.3 1315.8,920.3 1318.5,913.1 1320.4,906.2 1322.2,900.1 1325.1,889.7 1326.0,888.1 1327.4,881.4 1329.8,869.6 1332.1,859.8 1333.0,855.5 1334.4,844.6 1336.0,835.1 1338.5,819.8 1341.0,799.8 1343.5,784.9 1346.0,765.4 1349.0,744.7 1351.5,732.6 1353.1,729.3 1354.8,726.0 1357.7,724.2 1359.8,724.1 1362.2,735.1 1364.0,750.2 1366.5,767.5 1368.5,787.3 1371.0,807.4 1373.0,827.4 1374.0,834.9 1375.5,847.4 1378.5,867.6 1381.5,885.0 1384.0,907.1 1385.7,913.4 1387.2,919.7 1391.0,930.5 1392.7,932.7 1395.0,937.4 1396.0,938.9 1397.3,940.6 1399.7,942.5 1402.2,944.8 1404.3,944.7 1406.6,945.5 1408.5,946.0 1411.3,948.6 1413.5,950.6 1416.0,953.7 1418.5,955.9 1420.6,955.3 1423.0,956.6 1426.0,956.9 1427.6,959.0 1429.9,958.5 1432.3,955.9 1434.6,957.5 1436.0,957.1 1436.9,957.5 1439.3,958.8 1441.6,958.1 1443.9,956.7 1446.0,957.8 1448.6,959.2 1450.9,959.9 1453.5,961.1 1455.6,959.0 1458.5,957.4 1460.2,956.7 1462.6,958.3 1463.5,958.8 1464.9,958.0 1467.2,953.3 1468.5,954.0 1469.6,952.1 1471.9,950.5 1474.2,949.1 1476.0,948.3 1478.9,947.8 1481.2,940.3 1482.2,942.6 1483.5,939.2 1485.9,936.5 1487.2,934.5 1488.2,930.7 1490.5,930.7 1492.2,927.8 1496.0,926.4 1497.5,923.7 1499.8,923.2 1501.0,921.9 1502.2,920.8 1504.5,923.9 1506.0,923.7 1509.8,932.2 1511.5,933.5 1513.8,937.0 1514.8,937.5 1516.2,940.1 1518.5,947.6 1520.8,952.4 1523.5,953.8 1525.5,956.0 1528.5,962.3 1530.1,964.5 1532.5,969.1 1534.8,970.9 1537.1,967.5 1539.8,968.1 1541.8,967.8 1544.8,969.2 1546.4,966.4 1548.8,964.5 1549.8,962.1 1551.1,961.6 1553.4,956.9 1554.8,957.7 1555.8,957.5 1558.1,956.8 1559.8,959.6 1562.8,962.3 1565.1,964.4 1566.0,965.5 1567.4,964.8 1569.7,966.7 1572.2,967.4 1574.4,971.9 1576.0,974.8 1579.1,975.5 1581.0,974.5 1583.7,975.6 1586.0,976.0 1588.4,976.9 1590.7,981.1 1592.2,981.1 1595.4,982.8 1598.5,983.5 1600.0,985.7 1602.4,983.5 1604.7,985.6 1606.0,986.4 1607.0,987.6 1609.4,988.0 1612.2,988.0 1614.0,989.8 1616.3,989.6 1618.5,989.2 1621.0,989.5 1623.3,990.9 1626.0,991.2 1628.0,992.0 1629.8,993.2 1632.7,992.3 1635.0,987.8 1636.0,988.0 1637.3,989.3 1639.6,985.0 1642.0,985.1 1643.5,982.8 1646.6,980.5 1649.8,978.7 1651.3,976.4 1653.6,973.9 1656.0,970.0 1658.3,963.3 1661.0,957.4 1662.9,949.5 1664.8,943.1 1668.5,927.1 1669.9,920.4 1671.5,912.5 1674.8,899.7 1676.0,894.5 1676.9,893.8 1679.8,890.2 1681.6,889.4 1684.8,887.1 1686.2,893.4 1687.2,897.8 1688.6,905.8 1689.8,912.4 1690.9,919.0 1692.2,927.3 1693.2,933.7 1694.8,942.5 1698.0,957.4 1701.0,970.2 1702.6,975.1 1704.8,981.5 1707.2,986.7 1709.8,990.8 1711.9,995.4 1714.2,996.1 1716.0,999.0 1718.9,1001.7 1721.2,1002.9 1723.5,1003.9 1725.9,1003.7 1728.2,1004.0 1731.0,1004.7 1732.8,1005.7 1734.0,1004.7 1735.2,1004.4 1737.5,1006.9 1739.8,1006.8 1741.5,1008.8 1744.5,1010.6 1746.8,1010.2 1749.0,1009.7 1751.5,1011.6 1753.8,1012.7 1756.5,1012.8 1758.5,1010.6 1761.5,1009.4 1763.1,1013.4 1765.5,1013.8 1766.5,1015.4 1767.8,1014.5 1770.1,1016.4 1772.5,1016.5 1774.0,1017.2 1777.1,1017.5 1779.4,1016.9 1781.5,1018.4 1784.1,1017.9 1786.4,1016.3 1789.0,1016.2 1791.1,1018.1 1793.4,1017.5 1796.5,1018.8 1798.1,1017.7 1800.4,1018.7 1802.7,1018.0 1804.0,1016.8 1805.1,1019.9 1807.4,1017.1 1809.7,1019.4 1811.5,1018.6 1814.4,1019.6 1816.7,1018.8 1819.0,1018.8 1821.4,1017.7 1824.0,1014.0 1826.0,1015.9 1828.4,1019.5 1830.2,1021.1 1833.0,1021.4 1835.4,1020.6 1837.7,1021.4 1839.0,1019.7 1840.0,1021.0 1842.4,1018.0 1844.7,1017.3 1846.5,1018.6 1849.3,1019.2 1851.7,1019.8 1854.0,1020.2 1856.3,1021.6 1858.7,1019.2 1861.5,1020.8 1863.3,1022.3 1865.7,1022.5 1868.0,1025.1 1869.0,1023.6 1870.3,1022.4 1872.6,1022.4 1875.0,1022.9 1876.5,1021.7 1879.6,1024.6 1882.0,1023.2 1884.0,1025.9 1886.6,1024.3 1889.0,1027.6 1891.3,1023.8 1894.0,1024.7 1895.9,1023.6 1898.3,1025.3 1901.5,1026.7 1902.9,1026.3 1905.3,1028.3 1907.6,1024.4 1909.0,1026.6 1909.9,1025.4 1912.3,1025.0 1914.6,1025.2 1916.5,1025.3 1919.2,1026.7 1921.6,1028.0 1923.9,1027.9 1926.5,1028.9 1928.6,1029.9 1930.9,1027.6 1934.0,1027.1 1935.6,1027.5 1937.9,1027.1 1940.2,1026.4 1942.5,1026.8 1944.0,1028.0 1947.2,1029.1 1949.5,1028.9 1951.5,1030.0 1954.2,1029.4 1956.5,1029.1 1958.9,1031.5 1961.5,1030.0 1963.5,1030.3 1965.8,1031.4 1969.0,1030.2 1970.5,1029.1 1972.8,1030.9 1975.2,1028.8 1976.5,1032.5 1977.5,1031.1 1979.8,1029.5 1982.2,1034.0 1984.5,1030.0 1986.5,1031.6 1989.1,1034.0 1991.5,1033.0 1994.0,1034.8 1996.1,1033.6 1998.5,1033.8 2000.8,1032.2 2004.0,1033.2 2005.5,1032.4 2007.8,1035.1 2010.1,1035.5 2012.4,1036.9 2014.0,1037.1 2017.1,1037.7 2019.4,1035.1 2021.8,1035.6 2023.2,1037.4 2023.5,1036.7"/>
<polyline fill="none" stroke="#ff0000" stroke-width="7.2" stroke-linejoin="round" stroke-linecap="butt" points="164.8,898.1 165.0,899.1 167.1,896.8 170.0,894.7 171.7,896.8 174.1,893.3 176.4,895.3 178.7,894.3 180.0,895.1 181.1,893.0 183.4,889.1 186.2,884.8 188.1,885.9 190.4,882.4 192.7,883.0 195.0,883.3 197.4,883.8 199.7,883.3 202.0,882.0 204.4,882.5 207.5,883.9 209.0,884.3 211.4,884.8 213.7,886.2 216.2,885.3 218.3,887.7 220.0,892.3 223.0,893.3 225.3,895.9 227.5,896.1 230.0,896.1 232.3,897.7 234.7,896.6 237.5,897.9 239.3,899.0 241.6,900.5 244.0,902.8 246.2,901.4 248.6,898.2 251.0,899.9 253.3,897.8 255.0,896.3 258.0,895.1 260.3,894.1 262.5,892.3 264.9,893.8 267.3,892.9 269.6,892.7 271.9,891.8 275.0,893.1 276.6,892.0 278.9,889.9 281.2,889.9 283.6,891.3 285.9,890.5 288.2,891.8 290.0,891.6 292.9,894.9 295.2,895.4 297.5,896.1 299.9,893.9 302.2,895.1 305.0,894.7 306.9,893.7 309.2,895.5 311.5,897.4 312.5,897.4 313.9,896.1 316.2,894.2 318.5,894.3 320.0,892.7 323.2,890.9 325.5,890.2 327.5,889.7 330.2,890.6 332.5,892.3 334.8,890.3 337.2,888.8 338.8,886.2 341.8,881.7 344.2,883.4 346.5,881.1 347.5,879.9 348.8,880.1 351.2,876.1 353.8,875.0 355.8,870.2 358.1,867.9 360.0,863.6 362.8,863.7 365.1,861.1 367.5,861.4 369.8,859.8 372.5,853.9 374.5,855.1 377.5,854.5 379.1,856.7 381.4,860.1 382.5,859.7 383.8,861.8 386.1,866.0 388.8,871.4 390.8,873.4 393.1,877.3 396.2,880.9 397.8,881.1 400.1,880.0 402.5,879.5 404.7,881.7 407.1,882.5 409.4,882.6 411.2,884.2 414.1,881.8 415.0,877.5 416.4,878.4 418.7,879.4 420.0,877.7 421.1,877.5 423.4,870.9 425.0,868.0 428.0,866.5 430.4,866.3 432.5,864.5 435.0,859.5 437.4,853.4 440.0,850.6 442.0,849.9 444.4,846.7 446.2,844.8 449.0,839.4 451.3,834.8 452.5,832.7 453.7,824.2 455.0,815.1 456.0,813.6 458.3,810.5 460.0,808.5 463.0,805.5 464.2,802.3 465.3,804.1 467.7,809.0 468.8,809.0 470.0,807.8 473.0,808.3 475.0,819.5 477.0,824.4 480.0,827.0 481.6,832.0 484.0,840.4 485.0,842.5 486.3,844.6 488.6,849.1 491.2,854.4 493.3,854.9 495.6,859.8 497.9,861.4 500.0,861.9 502.6,865.5 504.9,866.7 506.2,868.8 507.3,869.5 509.6,870.7 512.5,871.6 514.3,869.6 516.6,869.6 518.9,868.6 520.0,865.8 521.2,866.8 523.6,864.2 526.2,863.6 528.2,859.9 530.6,854.8 532.5,851.5 535.2,849.1 537.6,848.7 538.8,847.4 539.9,845.7 542.2,841.4 544.5,836.9 547.5,832.5 549.2,825.7 551.5,817.9 552.5,815.2 553.9,810.4 556.2,803.7 557.5,799.9 558.5,796.1 560.9,788.5 562.5,782.6 565.5,771.0 567.8,761.2 568.8,757.6 570.2,748.4 572.5,732.6 573.8,724.7 574.8,714.4 577.5,689.9 579.5,671.6 581.2,655.1 585.0,625.3 586.5,617.3 588.8,605.8 591.1,601.3 593.8,595.9 595.8,596.4 598.8,596.2 600.5,598.2 602.8,601.2 605.0,602.9 607.5,606.9 610.0,607.1 612.1,610.8 615.0,617.7 616.8,628.9 618.8,641.9 621.4,646.3 623.8,650.9 626.1,661.6 628.8,674.9 630.8,682.2 632.5,687.5 635.4,705.6 637.5,719.8 640.1,731.8 642.5,742.3 644.7,753.4 647.5,765.2 649.4,776.7 652.5,795.2 654.1,798.5 656.4,803.8 658.8,807.6 661.0,811.8 663.4,816.5 665.0,819.3 668.0,820.7 671.2,823.4 672.7,822.4 675.0,824.8 677.5,825.0 678.0,826.1 679.7,824.3 682.0,821.6 683.0,821.4 684.3,821.0 686.7,820.4 689.2,821.7 691.3,818.0 694.2,813.4 696.0,812.5 698.3,812.4 700.5,811.2 703.0,813.4 705.5,813.6 707.6,815.8 710.0,818.5 713.0,819.5 714.6,820.7 717.0,819.6 718.0,818.8 719.3,818.0 721.6,816.7 723.0,815.5 724.0,815.6 726.8,819.0 728.6,817.5 731.8,813.7 733.3,811.6 735.5,808.7 737.9,809.5 740.5,812.8 742.6,813.6 745.5,816.9 747.3,814.4 749.6,811.6 750.5,809.6 751.9,807.3 754.2,807.7 756.8,804.4 758.9,807.0 761.8,807.4 763.6,804.7 766.8,797.3 768.2,794.6 770.6,792.8 771.8,791.7 772.9,788.5 775.2,781.9 776.8,779.2 780.5,767.6 782.2,765.0 784.5,763.5 785.5,763.0 786.9,758.0 789.2,748.5 791.5,749.3 793.9,750.5 795.5,750.3 798.5,746.4 800.8,744.0 801.8,742.1 803.2,739.8 805.5,732.4 807.8,735.0 810.2,731.9 811.8,733.6 815.5,742.5 817.2,741.7 819.5,738.6 821.8,736.8 824.1,732.1 826.5,730.3 828.0,727.3 831.1,721.9 833.0,717.6 835.8,711.3 838.1,704.9 839.2,702.4 840.5,702.7 843.0,696.1 845.1,690.3 846.8,684.7 849.8,683.4 853.0,682.3 854.4,677.2 856.8,669.8 859.1,664.0 860.5,659.9 861.4,655.6 864.2,640.1 866.1,631.9 868.0,623.8 871.0,605.0 873.5,585.1 875.5,560.0 877.5,537.6 880.0,510.0 883.0,474.8 884.7,457.7 886.0,445.3 887.1,436.0 889.2,414.7 891.8,398.7 894.0,394.7 895.0,394.6 896.4,396.1 898.5,398.6 900.5,414.7 904.2,445.0 905.7,456.2 908.0,474.8 910.4,493.3 912.2,509.9 915.5,529.7 918.0,547.4 919.7,560.2 921.0,570.0 922.0,578.0 924.2,595.2 926.7,610.9 928.0,619.7 929.0,626.1 931.8,639.5 933.7,648.2 935.5,657.5 938.3,663.2 939.2,665.0 940.6,666.6 943.0,666.3 944.2,667.3 945.3,667.6 947.6,666.4 950.5,662.5 952.3,657.0 954.2,650.4 957.0,637.5 958.0,632.4 959.3,623.3 961.8,609.9 963.9,596.8 965.5,587.2 968.5,564.8 970.5,542.5 972.5,522.5 973.0,509.8 973.5,510.2 975.0,475.0 977.5,450.2 979.2,425.3 981.0,410.3 982.6,402.4 984.2,395.1 988.0,372.4 989.6,359.0 991.0,347.3 991.9,343.0 993.5,334.6 996.0,307.3 998.5,285.0 1000.0,260.0 1001.8,240.0 1003.5,207.5 1005.5,175.1 1007.5,150.3 1009.2,134.9 1011.2,127.2 1013.5,134.9 1015.5,150.2 1016.8,175.0 1018.0,207.6 1019.5,240.1 1021.0,260.0 1022.5,285.1 1023.5,307.5 1024.5,334.9 1025.5,360.0 1026.5,385.1 1027.5,414.9 1028.5,437.4 1029.5,462.5 1030.5,487.4 1031.2,509.9 1032.5,534.9 1034.2,560.1 1036.0,585.1 1038.0,610.0 1040.5,630.3 1042.5,645.1 1044.2,664.7 1045.5,670.0 1048.0,677.4 1050.2,686.5 1051.8,692.7 1054.2,699.8 1058.0,712.0 1059.5,716.5 1061.8,722.2 1064.1,728.0 1066.8,735.1 1068.8,741.3 1070.5,745.9 1073.0,756.8 1075.8,758.3 1078.0,760.1 1080.4,765.1 1081.8,767.2 1082.8,770.1 1085.5,777.1 1087.4,777.3 1089.8,779.5 1091.8,778.8 1094.4,780.0 1096.8,779.2 1099.1,781.3 1100.5,781.6 1101.4,783.1 1103.7,780.6 1106.1,779.7 1108.0,780.6 1110.7,781.1 1113.1,781.9 1115.5,780.4 1117.7,777.8 1120.5,773.6 1122.4,772.4 1124.7,772.2 1126.8,769.9 1129.4,768.3 1131.7,766.8 1133.0,765.4 1134.0,765.6 1136.4,768.2 1139.2,769.6 1141.0,767.7 1143.0,767.4 1145.7,772.1 1148.0,775.1 1150.3,776.2 1152.7,777.6 1155.5,779.7 1157.3,782.0 1159.7,783.6 1162.0,786.4 1163.0,787.9 1164.3,787.3 1166.7,786.3 1168.0,785.9 1169.0,785.3 1171.3,780.7 1173.0,776.5 1176.0,775.5 1178.3,772.6 1180.5,772.4 1183.0,774.3 1185.3,772.0 1188.0,771.3 1190.0,770.1 1193.0,767.5 1194.6,770.2 1196.8,773.9 1199.3,772.7 1201.6,773.3 1203.9,770.0 1206.0,771.2 1208.6,770.0 1211.0,768.8 1213.5,772.9 1215.6,772.6 1217.2,770.7 1220.2,773.1 1222.6,770.7 1223.5,771.4 1224.9,770.8 1227.2,770.4 1229.8,768.8 1232.2,771.1 1234.2,769.9 1237.2,765.7 1238.9,764.7 1241.2,762.6 1242.2,759.5 1243.5,754.9 1244.8,753.7 1245.9,753.4 1248.2,754.1 1249.8,756.3 1252.9,752.5 1254.8,747.5 1257.5,744.3 1258.5,741.5 1259.9,740.2 1262.2,738.4 1264.8,736.6 1266.8,734.6 1269.8,731.2 1271.5,729.5 1273.5,727.5 1276.2,727.7 1277.2,728.7 1278.5,725.5 1279.8,721.4 1280.8,721.8 1283.2,724.5 1284.8,724.5 1288.5,717.8 1290.1,716.4 1292.2,715.2 1294.8,708.9 1296.0,707.7 1297.1,706.5 1299.8,701.7 1302.2,696.2 1304.1,691.5 1306.0,690.1 1309.0,677.6 1311.5,662.5 1314.0,644.5 1316.0,625.1 1318.5,609.8 1321.0,589.9 1323.0,565.3 1325.5,539.9 1327.2,519.9 1328.5,509.9 1329.8,492.7 1331.0,474.9 1332.1,458.6 1333.5,437.3 1334.4,424.7 1336.0,400.0 1338.5,362.3 1341.0,325.0 1343.0,287.7 1345.0,250.1 1346.1,232.4 1347.2,212.4 1349.0,187.5 1351.0,172.9 1353.1,170.5 1354.0,166.6 1355.4,169.9 1357.2,172.7 1359.8,187.5 1361.5,212.5 1363.5,249.9 1364.7,268.1 1366.0,287.5 1367.0,302.6 1368.5,324.7 1370.5,362.6 1371.7,380.4 1373.0,400.2 1374.8,437.4 1376.5,475.0 1378.0,510.0 1379.0,525.0 1380.5,545.2 1382.2,565.1 1384.0,587.7 1386.0,609.8 1388.5,630.0 1391.0,647.5 1392.7,650.2 1395.0,652.2 1396.0,653.7 1397.3,655.0 1399.8,660.2 1402.0,665.9 1403.5,669.2 1406.6,671.2 1408.5,672.2 1411.3,680.3 1412.2,680.8 1413.6,682.4 1416.5,682.7 1418.3,687.6 1419.8,693.4 1423.0,698.3 1424.8,701.0 1428.5,712.4 1429.9,714.6 1432.2,717.2 1434.6,719.0 1437.2,723.3 1439.3,726.6 1441.0,729.5 1444.8,735.0 1446.3,735.5 1448.6,740.6 1449.8,739.3 1450.9,738.5 1453.5,736.6 1455.6,736.8 1458.5,736.5 1460.2,738.0 1462.2,740.3 1464.9,737.4 1467.2,734.3 1469.6,734.5 1472.2,730.2 1474.2,725.3 1476.0,720.2 1479.8,704.7 1481.2,702.5 1483.5,697.8 1486.0,688.3 1488.2,684.8 1489.8,682.3 1493.5,677.4 1495.2,672.1 1497.2,665.2 1499.8,660.3 1502.2,656.3 1504.5,654.1 1506.8,652.1 1508.5,650.1 1511.5,657.3 1513.5,662.4 1516.0,679.9 1518.5,697.8 1521.0,709.7 1523.0,730.3 1525.5,739.8 1528.0,754.8 1531.0,764.0 1532.5,764.1 1534.8,765.6 1537.2,768.8 1539.5,766.8 1542.2,764.9 1544.1,760.4 1546.0,756.1 1548.8,748.4 1549.8,745.5 1551.1,739.9 1552.2,734.7 1553.4,728.3 1554.8,719.9 1555.8,717.0 1558.0,712.1 1561.0,704.4 1562.8,709.4 1564.8,715.3 1567.4,715.9 1568.5,718.1 1569.7,723.5 1571.5,730.9 1574.4,733.8 1576.0,732.2 1579.8,743.9 1581.4,744.9 1583.7,749.2 1584.8,751.2 1586.1,753.2 1588.4,756.7 1589.8,759.7 1590.7,766.5 1593.0,780.3 1596.0,792.1 1597.7,797.3 1599.8,805.2 1602.4,811.4 1603.5,814.7 1604.7,821.4 1606.0,827.6 1607.0,831.4 1608.5,837.6 1612.2,842.6 1614.0,847.3 1616.0,851.9 1618.7,857.3 1621.0,858.9 1623.3,857.6 1625.7,854.3 1627.2,855.2 1630.3,852.0 1633.5,847.2 1635.0,843.6 1637.2,837.4 1639.6,829.1 1641.0,824.6 1642.0,822.3 1644.8,817.5 1647.2,800.2 1649.0,791.1 1651.0,779.9 1653.5,762.7 1656.0,740.0 1658.5,717.7 1661.0,689.9 1663.5,662.4 1666.0,635.0 1668.5,610.3 1669.9,595.8 1671.0,584.7 1672.3,576.7 1673.5,567.4 1674.6,565.2 1676.5,557.1 1679.8,557.2 1681.6,565.8 1683.0,572.3 1684.8,587.7 1686.5,609.7 1688.5,635.2 1690.5,662.7 1692.2,690.1 1693.5,717.7 1695.5,740.1 1697.2,762.5 1699.0,785.0 1701.0,804.8 1703.0,825.0 1704.8,840.0 1707.2,857.5 1709.8,870.2 1712.2,884.7 1714.8,897.7 1717.2,902.3 1718.9,908.3 1720.5,912.6 1723.5,924.0 1725.9,926.2 1727.2,930.5 1728.2,932.0 1731.0,935.8 1732.8,937.7 1734.0,938.4 1735.2,938.6 1737.8,942.8 1739.8,945.2 1742.2,945.2 1744.0,947.9 1746.8,946.8 1749.2,949.6 1750.2,949.5 1751.5,950.9 1753.8,951.3 1756.5,954.0 1758.5,955.7 1760.8,958.0 1762.8,958.5 1765.5,961.8 1766.5,959.2 1767.8,957.0 1770.1,956.2 1771.5,954.9 1772.5,955.5 1774.8,954.8 1777.1,955.2 1779.0,956.3 1781.8,957.7 1784.1,958.8 1786.5,959.1 1788.8,958.4 1791.1,959.7 1794.0,960.2 1795.8,959.6 1798.1,959.8 1800.4,960.7 1801.5,962.0 1802.7,961.8 1805.1,962.6 1807.4,965.1 1809.0,964.4 1812.1,964.8 1814.4,965.4 1816.5,965.6 1819.1,965.2 1821.4,964.5 1824.0,964.1 1826.0,965.8 1828.4,966.5 1830.2,965.2 1833.0,963.6 1834.0,964.7 1835.4,964.4 1837.7,967.2 1839.0,969.2 1840.0,969.7 1842.4,967.7 1844.0,968.1 1847.0,968.3 1849.0,972.2 1851.7,973.6 1854.0,970.9 1856.3,973.1 1859.0,976.8 1861.0,977.4 1864.0,978.9 1865.7,977.7 1868.0,977.7 1869.0,977.2 1870.3,979.8 1872.6,981.7 1874.0,984.0 1875.0,983.4 1877.3,983.4 1880.2,984.9 1882.0,983.5 1884.3,983.6 1886.5,981.2 1889.0,983.8 1891.3,985.6 1894.0,986.0 1895.9,986.0 1899.0,982.6 1900.6,984.0 1902.9,986.1 1905.3,986.2 1906.5,987.3 1907.6,988.0 1909.9,987.5 1912.3,987.1 1914.0,987.5 1916.9,986.9 1919.2,986.0 1920.2,985.2 1921.6,985.3 1923.9,987.4 1926.5,989.2 1928.6,990.1 1930.9,990.5 1934.0,990.0 1935.6,990.3 1937.9,990.4 1940.2,990.9 1941.5,989.4 1942.5,989.4 1944.9,990.0 1947.2,992.7 1949.0,992.2 1951.9,993.2 1954.2,992.6 1956.5,992.0 1958.9,994.7 1961.5,996.4 1963.5,996.1 1965.8,994.6 1969.0,994.8 1970.5,996.7 1972.8,993.6 1975.2,994.7 1976.5,994.0 1977.5,995.3 1979.8,995.2 1982.8,998.7 1984.5,999.0 1986.8,998.7 1989.1,998.9 1991.5,998.6 1993.8,1000.9 1996.1,998.2 1999.0,1001.0 2000.8,999.5 2003.1,1001.2 2005.5,1003.5 2006.5,1002.6 2007.8,1003.2 2010.1,1001.0 2012.4,999.3 2014.0,999.7 2017.1,1000.1 2019.4,1000.5 2021.8,1002.6 2023.2,1001.9 2023.5,1001.9"/>
</g>
<g id="axes" fill="#000" shape-rendering="crispEdges">
<rect x="161" y="23" width="1866" height="7"/>
<rect x="158" y="1392" width="1872" height="6"/>
<rect x="158" y="26" width="7" height="1397"/>
<rect x="2023" y="26" width="7" height="1397"/>
<rect x="391" y="1392" width="7" height="17"/>
<rect x="624" y="1392" width="7" height="31"/>
<rect x="857" y="1392" width="7" height="17"/>
<rect x="1090" y="1392" width="7" height="31"/>
<rect x="1323" y="1392" width="7" height="17"/>
<rect x="1556" y="1392" width="7" height="31"/>
<rect x="1789" y="1392" width="7" height="17"/>
</g>
<g id="ticklabels" font-size="64.2" text-anchor="middle">
<text clip-path="url(#c0)" transform="translate(162.70,1489.5) scale(0.922,1)" x="0" y="0">1000</text>
<text clip-path="url(#c1)" transform="translate(628.95,1489.5) scale(0.922,1)" x="0" y="0">1200</text>
<text clip-path="url(#c2)" transform="translate(1095.20,1489.5) scale(0.922,1)" x="0" y="0">1400</text>
<text clip-path="url(#c3)" transform="translate(1561.45,1489.5) scale(0.922,1)" x="0" y="0">1600</text>
<text clip-path="url(#c4)" transform="translate(2027.70,1489.5) scale(0.922,1)" x="0" y="0">1800</text>
</g>
<text clip-path="url(#c5)" id="xtitle" font-size="72.6" y="1617"><tspan x="794.5">Raman</tspan> <tspan x="1051.5" letter-spacing="0.8">shift</tspan> <tspan x="1209">(cm</tspan><tspan x="1331" dy="-38.5" font-size="44">-1</tspan><tspan x="1370" dy="38.5">)</tspan></text>
<text id="ytitle" transform="translate(87,1119.2) rotate(-90)" font-size="73.8">Raman intensity (a.u.)</text>
<g id="legend" font-size="50">
<text clip-path="url(#c7)" x="1444" y="85.2">1</text>
<line x1="1484.75" y1="67.7" x2="1596" y2="67.7" stroke="#ff0000" stroke-width="7" shape-rendering="crispEdges"/>
<text clip-path="url(#c8)" x="1608.5" y="85.2" letter-spacing="-0.3">flower @ 1x10<tspan font-size="30" dy="-27.5" dx="-1">-3</tspan><tspan dy="27.5"> M</tspan></text>
<text x="1444" y="154.8">2</text>
<line x1="1484.75" y1="137.3" x2="1596" y2="137.3" stroke="#ff8000" stroke-width="7" shape-rendering="crispEdges"/>
<text clip-path="url(#c10)" x="1608.5" y="154.8" letter-spacing="-0.3">flower @ 1x10<tspan font-size="30" dy="-27.5" dx="-1">-4</tspan><tspan dy="27.5"> M</tspan></text>
<text x="1444" y="224.4">3</text>
<line x1="1484.75" y1="206.9" x2="1596" y2="206.9" stroke="#008000" stroke-width="7" shape-rendering="crispEdges"/>
<text clip-path="url(#c12)" x="1608.5" y="224.4" letter-spacing="-0.3">flower @ 1x10<tspan font-size="30" dy="-27.5" dx="-1">-5</tspan><tspan dy="27.5"> M</tspan></text>
<text x="1444" y="294.0">4</text>
<line x1="1484.75" y1="276.5" x2="1596" y2="276.5" stroke="#000080" stroke-width="7" shape-rendering="crispEdges"/>
<text clip-path="url(#c14)" x="1608.5" y="294.0" letter-spacing="-0.3">flower @ 1x10<tspan font-size="30" dy="-27.5" dx="-1">-6</tspan><tspan dy="27.5"> M</tspan></text>
<text x="1444" y="363.6">5</text>
<line x1="1484.75" y1="346.1" x2="1596" y2="346.1" stroke="#8000ff" stroke-width="7" shape-rendering="crispEdges"/>
<text clip-path="url(#c16)" x="1608.5" y="363.6" letter-spacing="-0.3">flower @ 1x10<tspan font-size="30" dy="-27.5" dx="-1">-7</tspan><tspan dy="27.5"> M</tspan></text>
<text x="1444" y="433.2">6</text>
<line x1="1484.75" y1="415.7" x2="1596" y2="415.7" stroke="#000000" stroke-width="7" shape-rendering="crispEdges"/>
<text clip-path="url(#c18)" x="1608.5" y="433.2" letter-spacing="-0.3">solution 1x10<tspan font-size="30" dy="-27.5" dx="-1">-3</tspan><tspan dy="27.5"> M</tspan></text>
</g>
<g id="labels" font-size="63">
<text clip-path="url(#c19)" transform="translate(1769.6,957.7) scale(0.945,1)" x="0" y="0">1</text>
<text transform="translate(1769.6,1010.6) scale(0.945,1)" x="0" y="0">2</text>
<text transform="translate(1769.6,1087.6) scale(0.945,1)" x="0" y="0">3</text>
<text transform="translate(1769.6,1159.8) scale(0.945,1)" x="0" y="0">4</text>
<text transform="translate(1769.6,1241) scale(0.945,1)" x="0" y="0">5</text>
<text transform="translate(1769.6,1333.5) scale(0.945,1)" x="0" y="0">6</text>
<text transform="translate(1029.8,1228) scale(0.955,1)" x="0" y="0" font-size="68.6" word-spacing="4">x 5</text>
</g>
</svg></body></html>
